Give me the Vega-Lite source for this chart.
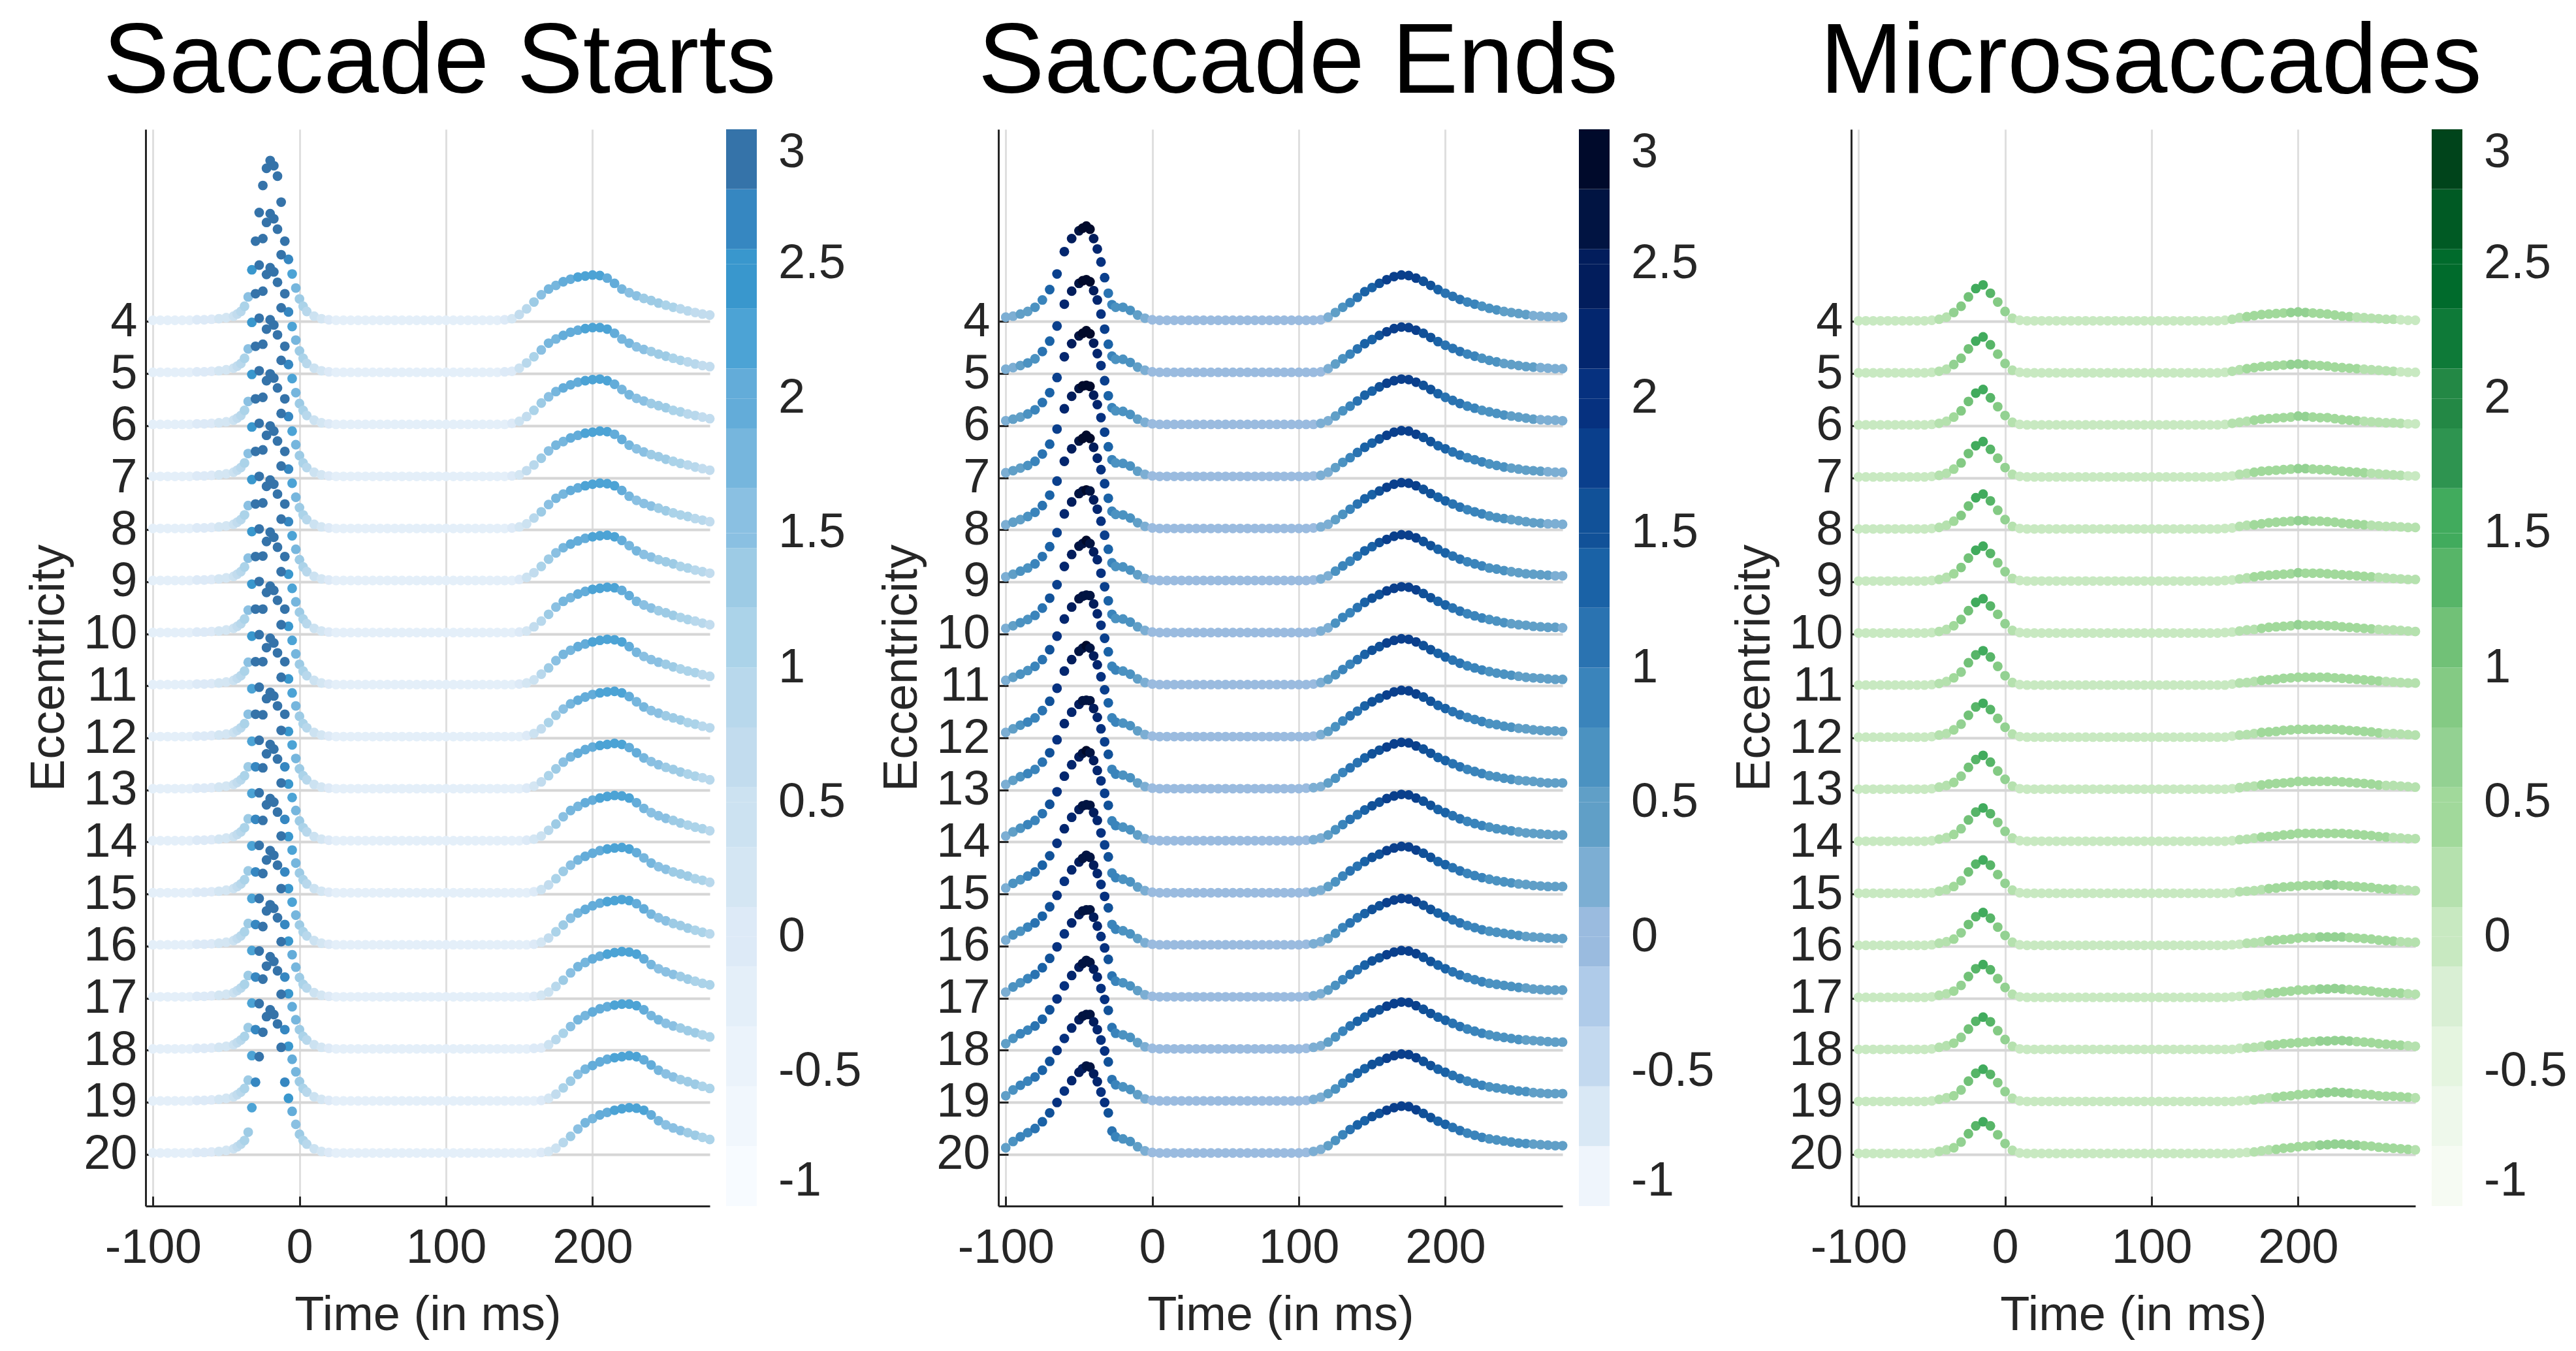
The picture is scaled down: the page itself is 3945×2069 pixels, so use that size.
{
"$schema": "https://vega.github.io/schema/vega-lite/v6.json",
"background": "white",
"padding": {"left": 38, "top": 20, "right": 5, "bottom": 5},
"bounds": "flush",
"spacing": 442,
"config": {
  "font": "Liberation Sans",
  "view": {"stroke": null},
  "locale": {"number": {"decimal": ".", "thousands": ",", "grouping": [3], "currency": ["$", ""], "minus": "-"}},
  "title": {"fontSize": 152, "fontWeight": "normal", "color": "#000000", "font": "Liberation Sans", "anchor": "middle", "baseline": "alphabetic", "offset": 24, "frame": "group"},
  "axis": {"domainColor": "#262626", "domainWidth": 3, "tickColor": "#262626", "tickWidth": 3, "tickSize": -15, "labelFontSize": 74, "labelColor": "#262626", "titleFontSize": 74, "titleFontWeight": "normal", "titleColor": "#262626", "labelFont": "Liberation Sans", "titleFont": "Liberation Sans", "labelFlush": false},
  "axisX": {"gridColor": "#dfdfdf", "gridWidth": 3, "labelPadding": 43, "titlePadding": 30},
  "axisY": {"gridColor": "#d6d6d6", "gridWidth": 4, "labelPadding": 28, "titlePadding": 14},
  "legend": {"labelFontSize": 74, "labelColor": "#262626", "labelFont": "Liberation Sans", "gradientLength": 1649, "gradientThickness": 47, "gradientStrokeWidth": 0, "labelOffset": 33, "offset": 25, "padding": 0, "labelOverlap": false}
},
"resolve": {"scale": {"color": "independent"}, "legend": {"color": "independent"}},
"datasets": {
"starts": [
{"t":-100,"e":[4,5,6,7,8,9,10,11,12,13,14,15,16,17,18,19,20],"h":[3,3,3,3,3,3,3,3,3,3,3,3,3,3,3,3,3],"c":[-0.2,-0.2,-0.2,-0.2,-0.2,-0.2,-0.2,-0.2,-0.2,-0.2,-0.2,-0.2,-0.2,-0.2,-0.2,-0.2,-0.2]},
{"t":-95,"e":[4,5,6,7,8,9,10,11,12,13,14,15,16,17,18,19,20],"h":[3,3,3,3,3,3,3,3,3,3,3,3,3,3,3,3,3],"c":[-0.2,-0.2,-0.2,-0.2,-0.2,-0.2,-0.2,-0.2,-0.2,-0.2,-0.2,-0.2,-0.2,-0.2,-0.2,-0.2,-0.2]},
{"t":-90,"e":[4,5,6,7,8,9,10,11,12,13,14,15,16,17,18,19,20],"h":[3,3,3,3,3,3,3,3,3,3,3,3,3,3,3,3,3],"c":[-0.2,-0.2,-0.2,-0.2,-0.2,-0.2,-0.2,-0.2,-0.2,-0.2,-0.2,-0.2,-0.2,-0.2,-0.2,-0.2,-0.2]},
{"t":-85,"e":[4,5,6,7,8,9,10,11,12,13,14,15,16,17,18,19,20],"h":[3,3,3,3,3,3,3,3,3,3,3,3,3,3,3,3,3],"c":[-0.2,-0.2,-0.2,-0.2,-0.2,-0.2,-0.2,-0.2,-0.2,-0.2,-0.2,-0.2,-0.2,-0.2,-0.2,-0.2,-0.2]},
{"t":-80,"e":[4,5,6,7,8,9,10,11,12,13,14,15,16,17,18,19,20],"h":[3,3,3,3,3,3,3,3,3,3,3,3,3,3,3,3,3],"c":[-0.2,-0.2,-0.2,-0.2,-0.2,-0.2,-0.2,-0.2,-0.2,-0.2,-0.2,-0.2,-0.2,-0.2,-0.2,-0.2,-0.2]},
{"t":-75,"e":[4,5,6,7,8,9,10,11,12,13,14,15,16,17,18,19,20],"h":[3,3,3,3,3,3,3,3,3,3,3,3,3,3,3,3,3],"c":[-0.2,-0.2,-0.2,-0.2,-0.2,-0.2,-0.2,-0.2,-0.2,-0.2,-0.2,-0.2,-0.2,-0.2,-0.2,-0.2,-0.2]},
{"t":-70,"e":[4,5,6,7,8,9,10,11,12,13,14,15,16,17,18,19,20],"h":[4,4,4,4,4,4,4,4,4,4,4,4,4,4,4,4,4],"c":[0,0,0,0,0,0,0,0,0,0,0,0,0,0,0,0,0]},
{"t":-65,"e":[4,5,6,7,8,9,10,11,12,13,14,15,16,17,18,19,20],"h":[4,4,4,4,4,4,4,4,4,4,4,4,4,4,4,4,4],"c":[0,0,0,0,0,0,0,0,0,0,0,0,0,0,0,0,0]},
{"t":-60,"e":[4,5,6,7,8,9,10,11,12,13,14,15,16,17,18,19,20],"h":[5,5,5,5,5,5,5,5,5,5,5,5,5,5,5,5,5],"c":[0,0,0,0,0,0,0,0,0,0,0,0,0,0,0,0,0]},
{"t":-55,"e":[4,5,6,7,8,9,10,11,12,13,14,15,16,17,18,19,20],"h":[6,6,6,6,6,6,6,6,6,6,6,6,6,6,6,6,6],"c":[0.2,0.2,0.2,0.2,0.2,0.2,0.2,0.2,0.2,0.2,0.2,0.2,0.2,0.2,0.2,0.2,0.2]},
{"t":-50,"e":[4,5,6,7,8,9,10,11,12,13,14,15,16,17,18,19,20],"h":[8,8,8,8,8,8,8,8,8,8,8,8,8,8,8,8,8],"c":[0.2,0.2,0.2,0.2,0.2,0.2,0.2,0.2,0.2,0.2,0.2,0.2,0.2,0.2,0.2,0.2,0.2]},
{"t":-45,"e":[4,5,6,7,8,9,10,11,12,13,14,15,16,17,18,19,20],"h":[11,11,11,11,11,11,11,11,11,11,11,11,11,11,11,11,11],"c":[0.4,0.4,0.4,0.4,0.4,0.4,0.4,0.4,0.4,0.4,0.4,0.4,0.4,0.4,0.4,0.4,0.4]},
{"t":-42.5,"e":[4,5,6,7,8,9,10,11,12,13,14,15,16,17,18,19,20],"h":[15,15,15,15,15,15,15,15,15,15,15,15,15,15,15,15,15],"c":[0.7,0.7,0.7,0.7,0.7,0.7,0.7,0.7,0.7,0.7,0.7,0.7,0.7,0.7,0.7,0.7,0.7]},
{"t":-40,"e":[4,5,6,7,8,9,10,11,12,13,14,15,16,17,18,19,20],"h":[20,20,20,20,20,20,20,20,20,20,20,20,20,20,20,20,20],"c":[0.9,0.9,0.9,0.9,0.9,0.9,0.9,0.9,0.9,0.9,0.9,0.9,0.9,0.9,0.9,0.9,0.9]},
{"t":-37.5,"e":[4,5,6,7,8,9,10,11,12,13,14,15,16,17,18,19,20],"h":[30,30,30,29,29,29,29,29,28,28,28,28,28,27,27,27,27],"c":[1.1,1.1,1.1,1.1,1.1,1.1,1.1,1.1,1.1,1.1,1.1,1.1,1.1,1.1,1.1,1.1,1.1]},
{"t":-35,"e":[4,5,6,7,8,9,10,11,12,13,14,15,16,17,18,19,20],"h":[48,48,47,47,47,46,46,46,46,45,45,45,44,44,44,43,43],"c":[1.6,1.6,1.6,1.6,1.6,1.6,1.6,1.6,1.6,1.3,1.3,1.3,1.3,1.3,1.3,1.3,1.3]},
{"t":-32.5,"e":[4,5,6,7,8,9,10,11,12,13,14,15,16,17,18,19,20],"h":[100,99,99,98,97,97,96,96,95,94,94,93,92,92,91,90,90],"c":[2.4,2.4,2.4,2.4,2.4,2.4,2.4,2.4,2.2,2.2,2.2,2.2,2.2,2.2,2.2,2.2,2.2]},
{"t":-30,"e":[4,5,6,7,8,9,10,11,12,13,14,15,16,17,18,19,20],"h":[155,154,153,152,151,150,149,148,147,146,145,144,143,142,141,140,139],"c":[2.9,2.9,2.9,2.9,2.9,2.9,2.9,2.9,2.9,2.9,2.7,2.7,2.7,2.7,2.7,2.7,2.7]},
{"t":-27.5,"e":[4,5,6,7,8,9,10,11,12,13,14,15,16,17,18,19,20],"h":[210,209,207,206,205,203,202,201,199,198,196,195,194,192,191,190,188],"c":[2.9,2.9,2.9,2.9,2.9,2.9,2.9,2.9,2.9,2.9,2.9,2.9,2.9,2.9,2.9,2.9,2.9]},
{"t":-25,"e":[4,5,6,7,8,9,10,11,12,13,14,15,16,17,18,19,20],"h":[262,260,259,257,255,254,252,250,248,247,245,243,242,240,238,237,235],"c":[2.9,2.9,2.9,2.9,2.9,2.9,2.9,2.9,2.9,2.9,2.9,2.9,2.9,2.9,2.9,2.9,2.9]},
{"t":-22.5,"e":[4,5,6,7,8,9,10,11,12,13,14,15,16,17,18,19,20],"h":[295,291,291,286,287,282,284,278,280,274,276,270,272,266,268,262,265],"c":[2.9,2.9,2.9,2.9,2.9,2.9,2.9,2.9,2.9,2.9,2.9,2.9,2.9,2.9,2.9,2.9,2.9]},
{"t":-20,"e":[4,5,6,7,8,9,10,11,12,13,14,15,16,17,18,19,20],"h":[310,308,304,304,300,300,296,296,292,292,288,288,284,284,280,280,278],"c":[2.9,2.9,2.9,2.9,2.9,2.9,2.9,2.9,2.9,2.9,2.9,2.9,2.9,2.9,2.9,2.9,2.9]},
{"t":-17.5,"e":[4,5,6,7,8,9,10,11,12,13,14,15,16,17,18,19,20],"h":[300,298,296,294,292,290,288,286,284,283,281,279,277,275,273,271,269],"c":[2.9,2.9,2.9,2.9,2.9,2.9,2.9,2.9,2.9,2.9,2.9,2.9,2.9,2.9,2.9,2.9,2.9]},
{"t":-15,"e":[4,5,6,7,8,9,10,11,12,13,14,15,16,17,18,19,20],"h":[280,278,276,275,273,271,269,267,265,264,262,260,258,256,255,253,251],"c":[2.9,2.9,2.9,2.9,2.9,2.9,2.9,2.9,2.9,2.9,2.9,2.9,2.9,2.9,2.9,2.9,2.9]},
{"t":-12.5,"e":[4,5,6,7,8,9,10,11,12,13,14,15,16,17,18,19,20],"h":[230,229,227,226,224,223,221,220,218,217,215,214,212,211,209,208,206],"c":[2.9,2.9,2.9,2.9,2.9,2.9,2.9,2.9,2.9,2.9,2.9,2.9,2.9,2.9,2.9,2.9,2.9]},
{"t":-10,"e":[4,5,6,7,8,9,10,11,12,13,14,15,16,17,18,19,20],"h":[155,154,153,152,151,150,149,148,147,146,145,144,143,142,141,140,139],"c":[2.9,2.9,2.9,2.9,2.9,2.9,2.9,2.9,2.9,2.9,2.7,2.7,2.7,2.7,2.7,2.7,2.7]},
{"t":-7.5,"e":[4,5,6,7,8,9,10,11,12,13,14,15,16,17,18,19,20],"h":[120,119,118,118,117,116,115,115,114,113,112,111,111,110,109,108,108],"c":[2.7,2.7,2.7,2.7,2.7,2.7,2.4,2.4,2.4,2.4,2.4,2.4,2.4,2.4,2.4,2.4,2.4]},
{"t":-5,"e":[4,5,6,7,8,9,10,11,12,13,14,15,16,17,18,19,20],"h":[92,91,91,90,90,89,88,88,87,87,86,85,85,84,84,83,83],"c":[2.2,2.2,2.2,2.2,2.2,2.2,2.2,2.2,2.2,2.2,2.2,2.2,2.2,2,2,2,2]},
{"t":-2.5,"e":[4,5,6,7,8,9,10,11,12,13,14,15,16,17,18,19,20],"h":[65,65,64,64,63,63,62,62,62,61,61,60,60,60,59,59,58],"c":[1.8,1.8,1.8,1.8,1.8,1.8,1.8,1.8,1.8,1.8,1.8,1.8,1.8,1.8,1.8,1.8,1.6]},
{"t":0,"e":[4,5,6,7,8,9,10,11,12,13,14,15,16,17,18,19,20],"h":[44,44,43,43,43,43,42,42,42,41,41,41,41,40,40,40,39],"c":[1.3,1.3,1.3,1.3,1.3,1.3,1.3,1.3,1.3,1.3,1.3,1.3,1.3,1.3,1.3,1.3,1.3]},
{"t":2.5,"e":[4,5,6,7,8,9,10,11,12,13,14,15,16,17,18,19,20],"h":[30,30,30,29,29,29,29,29,28,28,28,28,28,27,27,27,27],"c":[1.1,1.1,1.1,1.1,1.1,1.1,1.1,1.1,1.1,1.1,1.1,1.1,1.1,1.1,1.1,1.1,1.1]},
{"t":5,"e":[4,5,6,7,8,9,10,11,12,13,14,15,16,17,18,19,20],"h":[20,20,20,20,20,20,20,20,20,20,20,20,20,20,20,20,20],"c":[0.9,0.9,0.9,0.9,0.9,0.9,0.9,0.9,0.9,0.9,0.9,0.9,0.9,0.9,0.9,0.9,0.9]},
{"t":10,"e":[4,5,6,7,8,9,10,11,12,13,14,15,16,17,18,19,20],"h":[11,11,11,11,11,11,11,11,11,11,11,11,11,11,11,11,11],"c":[0.4,0.4,0.4,0.4,0.4,0.4,0.4,0.4,0.4,0.4,0.4,0.4,0.4,0.4,0.4,0.4,0.4]},
{"t":15,"e":[4,5,6,7,8,9,10,11,12,13,14,15,16,17,18,19,20],"h":[6,6,6,6,6,6,6,6,6,6,6,6,6,6,6,6,6],"c":[0.2,0.2,0.2,0.2,0.2,0.2,0.2,0.2,0.2,0.2,0.2,0.2,0.2,0.2,0.2,0.2,0.2]},
{"t":20,"e":[4,5,6,7,8,9,10,11,12,13,14,15,16,17,18,19,20],"h":[4,4,4,4,4,4,4,4,4,4,4,4,4,4,4,4,4],"c":[0,0,0,0,0,0,0,0,0,0,0,0,0,0,0,0,0]},
{"t":25,"e":[4,5,6,7,8,9,10,11,12,13,14,15,16,17,18,19,20],"h":[3,3,3,3,3,3,3,3,3,3,3,3,3,3,3,3,3],"c":[-0.2,-0.2,-0.2,-0.2,-0.2,-0.2,-0.2,-0.2,-0.2,-0.2,-0.2,-0.2,-0.2,-0.2,-0.2,-0.2,-0.2]},
{"t":30,"e":[4,5,6,7,8,9,10,11,12,13,14,15,16,17,18,19,20],"h":[3,3,3,3,3,3,3,3,3,3,3,3,3,3,3,3,3],"c":[-0.2,-0.2,-0.2,-0.2,-0.2,-0.2,-0.2,-0.2,-0.2,-0.2,-0.2,-0.2,-0.2,-0.2,-0.2,-0.2,-0.2]},
{"t":35,"e":[4,5,6,7,8,9,10,11,12,13,14,15,16,17,18,19,20],"h":[3,3,3,3,3,3,3,3,3,3,3,3,3,3,3,3,3],"c":[-0.2,-0.2,-0.2,-0.2,-0.2,-0.2,-0.2,-0.2,-0.2,-0.2,-0.2,-0.2,-0.2,-0.2,-0.2,-0.2,-0.2]},
{"t":40,"e":[4,5,6,7,8,9,10,11,12,13,14,15,16,17,18,19,20],"h":[3,3,3,3,3,3,3,3,3,3,3,3,3,3,3,3,3],"c":[-0.2,-0.2,-0.2,-0.2,-0.2,-0.2,-0.2,-0.2,-0.2,-0.2,-0.2,-0.2,-0.2,-0.2,-0.2,-0.2,-0.2]},
{"t":45,"e":[4,5,6,7,8,9,10,11,12,13,14,15,16,17,18,19,20],"h":[3,3,3,3,3,3,3,3,3,3,3,3,3,3,3,3,3],"c":[-0.2,-0.2,-0.2,-0.2,-0.2,-0.2,-0.2,-0.2,-0.2,-0.2,-0.2,-0.2,-0.2,-0.2,-0.2,-0.2,-0.2]},
{"t":50,"e":[4,5,6,7,8,9,10,11,12,13,14,15,16,17,18,19,20],"h":[3,3,3,3,3,3,3,3,3,3,3,3,3,3,3,3,3],"c":[-0.2,-0.2,-0.2,-0.2,-0.2,-0.2,-0.2,-0.2,-0.2,-0.2,-0.2,-0.2,-0.2,-0.2,-0.2,-0.2,-0.2]},
{"t":55,"e":[4,5,6,7,8,9,10,11,12,13,14,15,16,17,18,19,20],"h":[3,3,3,3,3,3,3,3,3,3,3,3,3,3,3,3,3],"c":[-0.2,-0.2,-0.2,-0.2,-0.2,-0.2,-0.2,-0.2,-0.2,-0.2,-0.2,-0.2,-0.2,-0.2,-0.2,-0.2,-0.2]},
{"t":60,"e":[4,5,6,7,8,9,10,11,12,13,14,15,16,17,18,19,20],"h":[3,3,3,3,3,3,3,3,3,3,3,3,3,3,3,3,3],"c":[-0.2,-0.2,-0.2,-0.2,-0.2,-0.2,-0.2,-0.2,-0.2,-0.2,-0.2,-0.2,-0.2,-0.2,-0.2,-0.2,-0.2]},
{"t":65,"e":[4,5,6,7,8,9,10,11,12,13,14,15,16,17,18,19,20],"h":[3,3,3,3,3,3,3,3,3,3,3,3,3,3,3,3,3],"c":[-0.2,-0.2,-0.2,-0.2,-0.2,-0.2,-0.2,-0.2,-0.2,-0.2,-0.2,-0.2,-0.2,-0.2,-0.2,-0.2,-0.2]},
{"t":70,"e":[4,5,6,7,8,9,10,11,12,13,14,15,16,17,18,19,20],"h":[3,3,3,3,3,3,3,3,3,3,3,3,3,3,3,3,3],"c":[-0.2,-0.2,-0.2,-0.2,-0.2,-0.2,-0.2,-0.2,-0.2,-0.2,-0.2,-0.2,-0.2,-0.2,-0.2,-0.2,-0.2]},
{"t":75,"e":[4,5,6,7,8,9,10,11,12,13,14,15,16,17,18,19,20],"h":[3,3,3,3,3,3,3,3,3,3,3,3,3,3,3,3,3],"c":[-0.2,-0.2,-0.2,-0.2,-0.2,-0.2,-0.2,-0.2,-0.2,-0.2,-0.2,-0.2,-0.2,-0.2,-0.2,-0.2,-0.2]},
{"t":80,"e":[4,5,6,7,8,9,10,11,12,13,14,15,16,17,18,19,20],"h":[3,3,3,3,3,3,3,3,3,3,3,3,3,3,3,3,3],"c":[-0.2,-0.2,-0.2,-0.2,-0.2,-0.2,-0.2,-0.2,-0.2,-0.2,-0.2,-0.2,-0.2,-0.2,-0.2,-0.2,-0.2]},
{"t":85,"e":[4,5,6,7,8,9,10,11,12,13,14,15,16,17,18,19,20],"h":[3,3,3,3,3,3,3,3,3,3,3,3,3,3,3,3,3],"c":[-0.2,-0.2,-0.2,-0.2,-0.2,-0.2,-0.2,-0.2,-0.2,-0.2,-0.2,-0.2,-0.2,-0.2,-0.2,-0.2,-0.2]},
{"t":90,"e":[4,5,6,7,8,9,10,11,12,13,14,15,16,17,18,19,20],"h":[3,3,3,3,3,3,3,3,3,3,3,3,3,3,3,3,3],"c":[-0.2,-0.2,-0.2,-0.2,-0.2,-0.2,-0.2,-0.2,-0.2,-0.2,-0.2,-0.2,-0.2,-0.2,-0.2,-0.2,-0.2]},
{"t":95,"e":[4,5,6,7,8,9,10,11,12,13,14,15,16,17,18,19,20],"h":[3,3,3,3,3,3,3,3,3,3,3,3,3,3,3,3,3],"c":[-0.2,-0.2,-0.2,-0.2,-0.2,-0.2,-0.2,-0.2,-0.2,-0.2,-0.2,-0.2,-0.2,-0.2,-0.2,-0.2,-0.2]},
{"t":100,"e":[4,5,6,7,8,9,10,11,12,13,14,15,16,17,18,19,20],"h":[3,3,3,3,3,3,3,3,3,3,3,3,3,3,3,3,3],"c":[-0.2,-0.2,-0.2,-0.2,-0.2,-0.2,-0.2,-0.2,-0.2,-0.2,-0.2,-0.2,-0.2,-0.2,-0.2,-0.2,-0.2]},
{"t":105,"e":[4,5,6,7,8,9,10,11,12,13,14,15,16,17,18,19,20],"h":[3,3,3,3,3,3,3,3,3,3,3,3,3,3,3,3,3],"c":[-0.2,-0.2,-0.2,-0.2,-0.2,-0.2,-0.2,-0.2,-0.2,-0.2,-0.2,-0.2,-0.2,-0.2,-0.2,-0.2,-0.2]},
{"t":110,"e":[4,5,6,7,8,9,10,11,12,13,14,15,16,17,18,19,20],"h":[3,3,3,3,3,3,3,3,3,3,3,3,3,3,3,3,3],"c":[-0.2,-0.2,-0.2,-0.2,-0.2,-0.2,-0.2,-0.2,-0.2,-0.2,-0.2,-0.2,-0.2,-0.2,-0.2,-0.2,-0.2]},
{"t":115,"e":[4,5,6,7,8,9,10,11,12,13,14,15,16,17,18,19,20],"h":[3,3,3,3,3,3,3,3,3,3,3,3,3,3,3,3,3],"c":[-0.2,-0.2,-0.2,-0.2,-0.2,-0.2,-0.2,-0.2,-0.2,-0.2,-0.2,-0.2,-0.2,-0.2,-0.2,-0.2,-0.2]},
{"t":120,"e":[4,5,6,7,8,9,10,11,12,13,14,15,16,17,18,19,20],"h":[3,3,3,3,3,3,3,3,3,3,3,3,3,3,3,3,3],"c":[-0.2,-0.2,-0.2,-0.2,-0.2,-0.2,-0.2,-0.2,-0.2,-0.2,-0.2,-0.2,-0.2,-0.2,-0.2,-0.2,-0.2]},
{"t":125,"e":[4,5,6,7,8,9,10,11,12,13,14,15,16,17,18,19,20],"h":[3,3,3,3,3,3,3,3,3,3,3,3,3,3,3,3,3],"c":[-0.2,-0.2,-0.2,-0.2,-0.2,-0.2,-0.2,-0.2,-0.2,-0.2,-0.2,-0.2,-0.2,-0.2,-0.2,-0.2,-0.2]},
{"t":130,"e":[4,5,6,7,8,9,10,11,12,13,14,15,16,17,18,19,20],"h":[3,3,3,3,3,3,3,3,3,3,3,3,3,3,3,3,3],"c":[-0.2,-0.2,-0.2,-0.2,-0.2,-0.2,-0.2,-0.2,-0.2,-0.2,-0.2,-0.2,-0.2,-0.2,-0.2,-0.2,-0.2]},
{"t":135,"e":[4,5,6,7,8,9,10,11,12,13,14,15,16,17,18,19,20],"h":[3,3,3,3,3,3,3,3,3,3,3,3,3,3,3,3,3],"c":[-0.2,-0.2,-0.2,-0.2,-0.2,-0.2,-0.2,-0.2,-0.2,-0.2,-0.2,-0.2,-0.2,-0.2,-0.2,-0.2,-0.2]},
{"t":140,"e":[4,5,6,7,8,9,10,11,12,13,14,15,16,17,18,19,20],"h":[4,4,3,3,3,3,3,3,3,3,3,3,3,3,3,3,3],"c":[0,0,-0.2,-0.2,-0.2,-0.2,-0.2,-0.2,-0.2,-0.2,-0.2,-0.2,-0.2,-0.2,-0.2,-0.2,-0.2]},
{"t":145,"e":[4,5,6,7,8,9,10,11,12,13,14,15,16,17,18,19,20],"h":[6,5,5,4,4,3,3,3,3,3,3,3,3,3,3,3,3],"c":[0.2,0,0,0,0,-0.2,-0.2,-0.2,-0.2,-0.2,-0.2,-0.2,-0.2,-0.2,-0.2,-0.2,-0.2]},
{"t":150,"e":[4,5,6,7,8,9,10,11,12,13,14,15,16,17,18,19,20],"h":[14,11,9,6,6,5,4,4,3,3,3,3,3,3,3,3,3],"c":[0.7,0.4,0.4,0.2,0.2,0,0,0,-0.2,-0.2,-0.2,-0.2,-0.2,-0.2,-0.2,-0.2,-0.2]},
{"t":155,"e":[4,5,6,7,8,9,10,11,12,13,14,15,16,17,18,19,20],"h":[25,21,18,14,12,9,6,6,5,4,4,3,3,3,3,3,3],"c":[0.9,0.9,0.7,0.7,0.4,0.4,0.2,0.2,0,0,0,-0.2,-0.2,-0.2,-0.2,-0.2,-0.2]},
{"t":160,"e":[4,5,6,7,8,9,10,11,12,13,14,15,16,17,18,19,20],"h":[38,33,30,25,23,18,14,12,9,8,6,5,4,4,4,3,3],"c":[1.3,1.1,1.1,0.9,0.9,0.7,0.7,0.4,0.4,0.2,0.2,0,0,0,0,-0.2,-0.2]},
{"t":165,"e":[4,5,6,7,8,9,10,11,12,13,14,15,16,17,18,19,20],"h":[52,46,44,38,35,30,25,23,18,16,12,9,8,6,5,4,4],"c":[1.6,1.6,1.3,1.3,1.3,1.1,0.9,0.9,0.7,0.7,0.4,0.4,0.2,0.2,0,0,0]},
{"t":170,"e":[4,5,6,7,8,9,10,11,12,13,14,15,16,17,18,19,20],"h":[63,59,56,52,49,44,38,35,30,28,23,18,16,12,11,8,6],"c":[1.8,1.8,1.6,1.6,1.6,1.3,1.3,1.3,1.1,1.1,0.9,0.7,0.7,0.4,0.4,0.2,0.2]},
{"t":175,"e":[4,5,6,7,8,9,10,11,12,13,14,15,16,17,18,19,20],"h":[70,67,66,63,61,56,52,49,44,41,35,30,28,23,21,16,12],"c":[1.8,1.8,1.8,1.8,1.8,1.6,1.6,1.6,1.3,1.3,1.3,1.1,1.1,0.9,0.9,0.7,0.4]},
{"t":180,"e":[4,5,6,7,8,9,10,11,12,13,14,15,16,17,18,19,20],"h":[77,74,73,70,69,66,63,61,56,54,49,44,41,35,33,28,23],"c":[2,2,2,1.8,1.8,1.8,1.8,1.8,1.6,1.6,1.6,1.3,1.3,1.3,1.1,1.1,0.9]},
{"t":185,"e":[4,5,6,7,8,9,10,11,12,13,14,15,16,17,18,19,20],"h":[82,80,79,77,76,73,70,69,66,64,61,56,54,49,46,41,35],"c":[2,2,2,2,2,2,1.8,1.8,1.8,1.8,1.8,1.6,1.6,1.6,1.6,1.3,1.3]},
{"t":190,"e":[4,5,6,7,8,9,10,11,12,13,14,15,16,17,18,19,20],"h":[86,84,84,82,81,79,77,76,73,71,69,66,64,61,59,54,49],"c":[2.2,2,2,2,2,2,2,2,2,2,1.8,1.8,1.8,1.8,1.8,1.6,1.6]},
{"t":195,"e":[4,5,6,7,8,9,10,11,12,13,14,15,16,17,18,19,20],"h":[88,87,87,86,85,84,82,81,79,78,76,73,71,69,67,64,61],"c":[2.2,2.2,2.2,2.2,2.2,2,2,2,2,2,2,2,2,1.8,1.8,1.8,1.8]},
{"t":200,"e":[4,5,6,7,8,9,10,11,12,13,14,15,16,17,18,19,20],"h":[90,89,89,88,88,87,86,85,84,83,81,79,78,76,74,71,69],"c":[2.2,2.2,2.2,2.2,2.2,2.2,2.2,2.2,2,2,2,2,2,2,2,2,1.8]},
{"t":205,"e":[4,5,6,7,8,9,10,11,12,13,14,15,16,17,18,19,20],"h":[89,89,90,90,90,89,88,88,87,86,85,84,83,81,80,78,76],"c":[2.2,2.2,2.2,2.2,2.2,2.2,2.2,2.2,2.2,2.2,2.2,2,2,2,2,2,2]},
{"t":210,"e":[4,5,6,7,8,9,10,11,12,13,14,15,16,17,18,19,20],"h":[84,86,87,89,89,90,90,90,89,88,88,87,86,85,84,83,81],"c":[2,2.2,2.2,2.2,2.2,2.2,2.2,2.2,2.2,2.2,2.2,2.2,2.2,2.2,2,2,2]},
{"t":215,"e":[4,5,6,7,8,9,10,11,12,13,14,15,16,17,18,19,20],"h":[74,78,80,84,85,87,89,89,90,90,90,89,88,88,87,86,85],"c":[2,2,2,2,2.2,2.2,2.2,2.2,2.2,2.2,2.2,2.2,2.2,2.2,2.2,2.2,2.2]},
{"t":220,"e":[4,5,6,7,8,9,10,11,12,13,14,15,16,17,18,19,20],"h":[63,67,70,74,76,80,84,85,87,88,89,90,90,90,89,88,88],"c":[1.8,1.8,1.8,2,2,2,2,2.2,2.2,2.2,2.2,2.2,2.2,2.2,2.2,2.2,2.2]},
{"t":225,"e":[4,5,6,7,8,9,10,11,12,13,14,15,16,17,18,19,20],"h":[56,59,60,63,65,70,74,76,80,82,85,87,88,89,89,90,90],"c":[1.6,1.8,1.8,1.8,1.8,1.8,2,2,2,2,2.2,2.2,2.2,2.2,2.2,2.2,2.2]},
{"t":230,"e":[4,5,6,7,8,9,10,11,12,13,14,15,16,17,18,19,20],"h":[50,52,53,56,57,60,63,65,70,72,76,80,82,85,86,88,89],"c":[1.6,1.6,1.6,1.6,1.6,1.8,1.8,1.8,1.8,2,2,2,2,2.2,2.2,2.2,2.2]},
{"t":235,"e":[4,5,6,7,8,9,10,11,12,13,14,15,16,17,18,19,20],"h":[45,47,48,50,51,53,56,57,60,62,65,70,72,76,78,82,85],"c":[1.3,1.6,1.6,1.6,1.6,1.6,1.6,1.6,1.8,1.8,1.8,1.8,2,2,2,2,2.2]},
{"t":240,"e":[4,5,6,7,8,9,10,11,12,13,14,15,16,17,18,19,20],"h":[41,43,43,45,46,48,50,51,53,55,57,60,62,65,67,72,76],"c":[1.3,1.3,1.3,1.3,1.6,1.6,1.6,1.6,1.6,1.6,1.6,1.8,1.8,1.8,1.8,2,2]},
{"t":245,"e":[4,5,6,7,8,9,10,11,12,13,14,15,16,17,18,19,20],"h":[36,38,39,41,42,43,45,46,48,49,51,53,55,57,59,62,65],"c":[1.3,1.3,1.3,1.3,1.3,1.3,1.3,1.6,1.6,1.6,1.6,1.6,1.6,1.6,1.8,1.8,1.8]},
{"t":250,"e":[4,5,6,7,8,9,10,11,12,13,14,15,16,17,18,19,20],"h":[32,34,35,36,37,39,41,42,43,44,46,48,49,51,52,55,57],"c":[1.1,1.3,1.3,1.3,1.3,1.3,1.3,1.3,1.3,1.3,1.6,1.6,1.6,1.6,1.6,1.6,1.6]},
{"t":255,"e":[4,5,6,7,8,9,10,11,12,13,14,15,16,17,18,19,20],"h":[28,30,30,32,33,35,36,37,39,40,42,43,44,46,47,49,51],"c":[1.1,1.1,1.1,1.1,1.1,1.3,1.3,1.3,1.3,1.3,1.3,1.3,1.3,1.6,1.6,1.6,1.6]},
{"t":260,"e":[4,5,6,7,8,9,10,11,12,13,14,15,16,17,18,19,20],"h":[25,26,27,28,29,30,32,33,35,35,37,39,40,42,43,44,46],"c":[0.9,1.1,1.1,1.1,1.1,1.1,1.1,1.1,1.3,1.3,1.3,1.3,1.3,1.3,1.3,1.3,1.6]},
{"t":265,"e":[4,5,6,7,8,9,10,11,12,13,14,15,16,17,18,19,20],"h":[21,23,23,25,26,27,28,29,30,31,33,35,35,37,38,40,42],"c":[0.9,0.9,0.9,0.9,1.1,1.1,1.1,1.1,1.1,1.1,1.1,1.3,1.3,1.3,1.3,1.3,1.3]},
{"t":270,"e":[4,5,6,7,8,9,10,11,12,13,14,15,16,17,18,19,20],"h":[18,19,20,21,22,23,25,26,27,27,29,30,31,33,34,35,37],"c":[0.7,0.9,0.9,0.9,0.9,0.9,0.9,1.1,1.1,1.1,1.1,1.1,1.1,1.1,1.3,1.3,1.3]},
{"t":275,"e":[4,5,6,7,8,9,10,11,12,13,14,15,16,17,18,19,20],"h":[15,16,17,18,19,20,21,22,23,24,26,27,27,29,30,31,33],"c":[0.7,0.7,0.7,0.7,0.9,0.9,0.9,0.9,0.9,0.9,1.1,1.1,1.1,1.1,1.1,1.1,1.1]},
{"t":280,"e":[4,5,6,7,8,9,10,11,12,13,14,15,16,17,18,19,20],"h":[13,14,14,15,16,17,18,19,20,20,22,23,24,26,26,27,29],"c":[0.7,0.7,0.7,0.7,0.7,0.7,0.7,0.9,0.9,0.9,0.9,0.9,0.9,1.1,1.1,1.1,1.1]}
],
"ends": [
{"t":-100,"e":[4,5,6,7,8,9,10,11,12,13,14,15,16,17,18,19,20],"h":[9,9,10,10,10,10,11,11,11,11,12,12,12,12,13,13,13],"c":[0.2,0.2,0.2,0.2,0.2,0.2,0.2,0.2,0.2,0.2,0.2,0.2,0.2,0.2,0.4,0.4,0.4]},
{"t":-95,"e":[4,5,6,7,8,9,10,11,12,13,14,15,16,17,18,19,20],"h":[11,12,13,14,15,15,16,17,18,19,20,21,22,22,23,24,25],"c":[0.2,0.2,0.4,0.4,0.4,0.4,0.4,0.4,0.4,0.4,0.4,0.7,0.7,0.7,0.7,0.7,0.7]},
{"t":-90,"e":[4,5,6,7,8,9,10,11,12,13,14,15,16,17,18,19,20],"h":[15,16,17,19,20,21,22,23,25,26,27,28,29,30,32,33,34],"c":[0.4,0.4,0.4,0.4,0.4,0.7,0.7,0.7,0.7,0.7,0.7,0.7,0.7,0.7,0.9,0.9,0.9]},
{"t":-85,"e":[4,5,6,7,8,9,10,11,12,13,14,15,16,17,18,19,20],"h":[20,21,23,24,26,27,28,30,31,32,34,35,37,38,39,41,42],"c":[0.4,0.7,0.7,0.7,0.7,0.7,0.7,0.7,0.9,0.9,0.9,0.9,0.9,0.9,0.9,0.9,0.9]},
{"t":-80,"e":[4,5,6,7,8,9,10,11,12,13,14,15,16,17,18,19,20],"h":[28,29,31,32,34,35,36,38,39,40,42,43,45,46,47,49,50],"c":[0.7,0.7,0.9,0.9,0.9,0.9,0.9,0.9,0.9,0.9,0.9,1.1,1.1,1.1,1.1,1.1,1.1]},
{"t":-75,"e":[4,5,6,7,8,9,10,11,12,13,14,15,16,17,18,19,20],"h":[42,43,45,46,47,49,50,51,53,54,55,56,58,59,60,62,63],"c":[0.9,1.1,1.1,1.1,1.1,1.1,1.1,1.1,1.1,1.1,1.1,1.3,1.3,1.3,1.3,1.3,1.3]},
{"t":-70,"e":[4,5,6,7,8,9,10,11,12,13,14,15,16,17,18,19,20],"h":[62,63,64,65,67,68,69,70,71,72,73,74,76,77,78,79,80],"c":[1.3,1.3,1.3,1.3,1.3,1.3,1.6,1.6,1.6,1.6,1.6,1.6,1.6,1.6,1.6,1.6,1.6]},
{"t":-65,"e":[4,5,6,7,8,9,10,11,12,13,14,15,16,17,18,19,20],"h":[92,92,93,94,94,95,95,96,96,97,97,98,98,99,99,100,100],"c":[1.8,1.8,1.8,1.8,1.8,1.8,1.8,2,2,2,2,2,2,2,2,2,2]},
{"t":-60,"e":[4,5,6,7,8,9,10,11,12,13,14,15,16,17,18,19,20],"h":[135,134,133,133,132,131,130,129,129,128,127,126,125,124,124,123,122],"c":[2.2,2.2,2.2,2.2,2.2,2.2,2.2,2.2,2.2,2.2,2.2,2.2,2,2,2,2,2]},
{"t":-55,"e":[4,5,6,7,8,9,10,11,12,13,14,15,16,17,18,19,20],"h":[160,159,158,157,156,154,153,152,151,150,149,148,147,145,144,143,142],"c":[2.4,2.4,2.4,2.4,2.4,2.4,2.4,2.4,2.4,2.2,2.2,2.2,2.2,2.2,2.2,2.2,2.2]},
{"t":-50,"e":[4,5,6,7,8,9,10,11,12,13,14,15,16,17,18,19,20],"h":[175,174,173,172,171,170,169,168,167,165,164,163,162,161,160,159,158],"c":[2.7,2.7,2.7,2.7,2.7,2.7,2.7,2.7,2.7,2.4,2.4,2.4,2.4,2.4,2.4,2.4,2.4]},
{"t":-47.5,"e":[4,5,6,7,8,9,10,11,12,13,14,15,16,17,18,19,20],"h":[180,179,178,177,176,175,174,173,173,172,171,170,169,168,167,166,165],"c":[2.9,2.9,2.9,2.9,2.9,2.7,2.7,2.7,2.7,2.7,2.7,2.7,2.7,2.7,2.7,2.7,2.4]},
{"t":-45,"e":[4,5,6,7,8,9,10,11,12,13,14,15,16,17,18,19,20],"h":[184,181,183,178,182,177,180,175,178,173,176,172,175,170,173,169,170],"c":[2.9,2.9,2.9,2.9,2.9,2.9,2.9,2.7,2.9,2.7,2.9,2.7,2.7,2.7,2.7,2.7,2.7]},
{"t":-42.5,"e":[4,5,6,7,8,9,10,11,12,13,14,15,16,17,18,19,20],"h":[178,177,177,176,176,175,174,174,173,172,172,171,171,170,169,169,168],"c":[2.9,2.9,2.9,2.9,2.9,2.7,2.7,2.7,2.7,2.7,2.7,2.7,2.7,2.7,2.7,2.7,2.7]},
{"t":-40,"e":[4,5,6,7,8,9,10,11,12,13,14,15,16,17,18,19,20],"h":[160,160,159,159,159,158,158,158,158,157,157,157,156,156,156,155,155],"c":[2.4,2.4,2.4,2.4,2.4,2.4,2.4,2.4,2.4,2.4,2.4,2.4,2.4,2.4,2.4,2.4,2.4]},
{"t":-37.5,"e":[4,5,6,7,8,9,10,11,12,13,14,15,16,17,18,19,20],"h":[140,142,139,141,138,140,143,139,141,140,138,142,140,139,141,140,140],"c":[2.2,2.2,2.2,2.2,2.2,2.2,2.2,2.2,2.2,2.2,2.2,2.2,2.2,2.2,2.2,2.2,2.2]},
{"t":-35,"e":[4,5,6,7,8,9,10,11,12,13,14,15,16,17,18,19,20],"h":[115,115,116,116,116,117,117,117,118,118,118,118,119,119,119,120,120],"c":[2,2,2,2,2,2,2,2,2,2,2,2,2,2,2,2,2]},
{"t":-32.5,"e":[4,5,6,7,8,9,10,11,12,13,14,15,16,17,18,19,20],"h":[85,86,87,88,89,90,91,92,93,93,94,95,96,97,98,99,100],"c":[1.8,1.8,1.8,1.8,1.8,1.8,1.8,1.8,1.8,1.8,1.8,1.8,2,2,2,2,2]},
{"t":-30,"e":[4,5,6,7,8,9,10,11,12,13,14,15,16,17,18,19,20],"h":[55,57,58,60,61,63,64,66,68,69,71,72,74,75,77,78,80],"c":[1.1,1.3,1.3,1.3,1.3,1.3,1.3,1.3,1.3,1.6,1.6,1.6,1.6,1.6,1.6,1.6,1.6]},
{"t":-27.5,"e":[4,5,6,7,8,9,10,11,12,13,14,15,16,17,18,19,20],"h":[33,34,35,35,36,37,38,38,39,40,41,41,42,43,44,44,45],"c":[0.9,0.9,0.9,0.9,0.9,0.9,0.9,0.9,0.9,0.9,0.9,0.9,0.9,1.1,1.1,1.1,1.1]},
{"t":-25,"e":[4,5,6,7,8,9,10,11,12,13,14,15,16,17,18,19,20],"h":[28,28,29,29,30,30,30,31,31,31,32,32,33,33,33,34,34],"c":[0.7,0.7,0.7,0.7,0.7,0.7,0.7,0.9,0.9,0.9,0.9,0.9,0.9,0.9,0.9,0.9,0.9]},
{"t":-20,"e":[4,5,6,7,8,9,10,11,12,13,14,15,16,17,18,19,20],"h":[28,28,28,28,29,29,29,29,29,29,29,29,30,30,30,30,30],"c":[0.7,0.7,0.7,0.7,0.7,0.7,0.7,0.7,0.7,0.7,0.7,0.7,0.7,0.7,0.7,0.7,0.7]},
{"t":-15,"e":[4,5,6,7,8,9,10,11,12,13,14,15,16,17,18,19,20],"h":[22,22,22,23,23,23,23,23,24,24,24,24,24,24,25,25,25],"c":[0.7,0.7,0.7,0.7,0.7,0.7,0.7,0.7,0.7,0.7,0.7,0.7,0.7,0.7,0.7,0.7,0.7]},
{"t":-10,"e":[4,5,6,7,8,9,10,11,12,13,14,15,16,17,18,19,20],"h":[13,13,13,13,14,14,14,14,14,14,14,14,15,15,15,15,15],"c":[0.4,0.4,0.4,0.4,0.4,0.4,0.4,0.4,0.4,0.4,0.4,0.4,0.4,0.4,0.4,0.4,0.4]},
{"t":-5,"e":[4,5,6,7,8,9,10,11,12,13,14,15,16,17,18,19,20],"h":[7,7,7,7,7,7,7,7,7,7,7,7,7,7,7,7,7],"c":[0.2,0.2,0.2,0.2,0.2,0.2,0.2,0.2,0.2,0.2,0.2,0.2,0.2,0.2,0.2,0.2,0.2]},
{"t":0,"e":[4,5,6,7,8,9,10,11,12,13,14,15,16,17,18,19,20],"h":[4,4,4,4,4,4,4,4,4,4,4,4,4,4,4,4,4],"c":[0,0,0,0,0,0,0,0,0,0,0,0,0,0,0,0,0]},
{"t":5,"e":[4,5,6,7,8,9,10,11,12,13,14,15,16,17,18,19,20],"h":[3,3,3,3,3,3,3,3,3,3,3,3,3,3,3,3,3],"c":[0,0,0,0,0,0,0,0,0,0,0,0,0,0,0,0,0]},
{"t":10,"e":[4,5,6,7,8,9,10,11,12,13,14,15,16,17,18,19,20],"h":[3,3,3,3,3,3,3,3,3,3,3,3,3,3,3,3,3],"c":[0,0,0,0,0,0,0,0,0,0,0,0,0,0,0,0,0]},
{"t":15,"e":[4,5,6,7,8,9,10,11,12,13,14,15,16,17,18,19,20],"h":[3,3,3,3,3,3,3,3,3,3,3,3,3,3,3,3,3],"c":[0,0,0,0,0,0,0,0,0,0,0,0,0,0,0,0,0]},
{"t":20,"e":[4,5,6,7,8,9,10,11,12,13,14,15,16,17,18,19,20],"h":[3,3,3,3,3,3,3,3,3,3,3,3,3,3,3,3,3],"c":[0,0,0,0,0,0,0,0,0,0,0,0,0,0,0,0,0]},
{"t":25,"e":[4,5,6,7,8,9,10,11,12,13,14,15,16,17,18,19,20],"h":[3,3,3,3,3,3,3,3,3,3,3,3,3,3,3,3,3],"c":[0,0,0,0,0,0,0,0,0,0,0,0,0,0,0,0,0]},
{"t":30,"e":[4,5,6,7,8,9,10,11,12,13,14,15,16,17,18,19,20],"h":[3,3,3,3,3,3,3,3,3,3,3,3,3,3,3,3,3],"c":[0,0,0,0,0,0,0,0,0,0,0,0,0,0,0,0,0]},
{"t":35,"e":[4,5,6,7,8,9,10,11,12,13,14,15,16,17,18,19,20],"h":[3,3,3,3,3,3,3,3,3,3,3,3,3,3,3,3,3],"c":[0,0,0,0,0,0,0,0,0,0,0,0,0,0,0,0,0]},
{"t":40,"e":[4,5,6,7,8,9,10,11,12,13,14,15,16,17,18,19,20],"h":[3,3,3,3,3,3,3,3,3,3,3,3,3,3,3,3,3],"c":[0,0,0,0,0,0,0,0,0,0,0,0,0,0,0,0,0]},
{"t":45,"e":[4,5,6,7,8,9,10,11,12,13,14,15,16,17,18,19,20],"h":[3,3,3,3,3,3,3,3,3,3,3,3,3,3,3,3,3],"c":[0,0,0,0,0,0,0,0,0,0,0,0,0,0,0,0,0]},
{"t":50,"e":[4,5,6,7,8,9,10,11,12,13,14,15,16,17,18,19,20],"h":[3,3,3,3,3,3,3,3,3,3,3,3,3,3,3,3,3],"c":[0,0,0,0,0,0,0,0,0,0,0,0,0,0,0,0,0]},
{"t":55,"e":[4,5,6,7,8,9,10,11,12,13,14,15,16,17,18,19,20],"h":[3,3,3,3,3,3,3,3,3,3,3,3,3,3,3,3,3],"c":[0,0,0,0,0,0,0,0,0,0,0,0,0,0,0,0,0]},
{"t":60,"e":[4,5,6,7,8,9,10,11,12,13,14,15,16,17,18,19,20],"h":[3,3,3,3,3,3,3,3,3,3,3,3,3,3,3,3,3],"c":[0,0,0,0,0,0,0,0,0,0,0,0,0,0,0,0,0]},
{"t":65,"e":[4,5,6,7,8,9,10,11,12,13,14,15,16,17,18,19,20],"h":[3,3,3,3,3,3,3,3,3,3,3,3,3,3,3,3,3],"c":[0,0,0,0,0,0,0,0,0,0,0,0,0,0,0,0,0]},
{"t":70,"e":[4,5,6,7,8,9,10,11,12,13,14,15,16,17,18,19,20],"h":[3,3,3,3,3,3,3,3,3,3,3,3,3,3,3,3,3],"c":[0,0,0,0,0,0,0,0,0,0,0,0,0,0,0,0,0]},
{"t":75,"e":[4,5,6,7,8,9,10,11,12,13,14,15,16,17,18,19,20],"h":[3,3,3,3,3,3,3,3,3,3,3,3,3,3,3,3,3],"c":[0,0,0,0,0,0,0,0,0,0,0,0,0,0,0,0,0]},
{"t":80,"e":[4,5,6,7,8,9,10,11,12,13,14,15,16,17,18,19,20],"h":[3,3,3,3,3,3,3,3,3,3,3,3,3,3,3,3,3],"c":[0,0,0,0,0,0,0,0,0,0,0,0,0,0,0,0,0]},
{"t":85,"e":[4,5,6,7,8,9,10,11,12,13,14,15,16,17,18,19,20],"h":[3,3,3,3,3,3,3,3,3,3,3,3,3,3,3,3,3],"c":[0,0,0,0,0,0,0,0,0,0,0,0,0,0,0,0,0]},
{"t":90,"e":[4,5,6,7,8,9,10,11,12,13,14,15,16,17,18,19,20],"h":[3,3,3,3,3,3,3,3,3,3,3,3,3,3,3,3,3],"c":[0,0,0,0,0,0,0,0,0,0,0,0,0,0,0,0,0]},
{"t":95,"e":[4,5,6,7,8,9,10,11,12,13,14,15,16,17,18,19,20],"h":[3,3,3,3,3,3,3,3,3,3,3,3,3,3,3,3,3],"c":[0,0,0,0,0,0,0,0,0,0,0,0,0,0,0,0,0]},
{"t":100,"e":[4,5,6,7,8,9,10,11,12,13,14,15,16,17,18,19,20],"h":[3,3,3,3,3,3,3,3,3,3,3,3,3,3,3,3,3],"c":[0,0,0,0,0,0,0,0,0,0,0,0,0,0,0,0,0]},
{"t":105,"e":[4,5,6,7,8,9,10,11,12,13,14,15,16,17,18,19,20],"h":[3,3,3,3,3,3,3,3,3,4,4,4,4,4,4,4,4],"c":[0,0,0,0,0,0,0,0,0,0,0,0,0,0,0,0,0]},
{"t":110,"e":[4,5,6,7,8,9,10,11,12,13,14,15,16,17,18,19,20],"h":[3,3,3,4,4,4,4,4,4,5,5,5,5,5,6,6,6],"c":[0,0,0,0,0,0,0,0,0,0.2,0.2,0.2,0.2,0.2,0.2,0.2,0.2]},
{"t":115,"e":[4,5,6,7,8,9,10,11,12,13,14,15,16,17,18,19,20],"h":[4,4,5,5,6,6,6,7,7,7,8,8,9,9,9,10,10],"c":[0,0,0.2,0.2,0.2,0.2,0.2,0.2,0.2,0.2,0.2,0.2,0.2,0.2,0.2,0.2,0.2]},
{"t":120,"e":[4,5,6,7,8,9,10,11,12,13,14,15,16,17,18,19,20],"h":[9,10,10,11,11,12,12,13,13,14,14,15,15,16,16,17,17],"c":[0.2,0.2,0.2,0.2,0.2,0.2,0.2,0.4,0.4,0.4,0.4,0.4,0.4,0.4,0.4,0.4,0.4]},
{"t":125,"e":[4,5,6,7,8,9,10,11,12,13,14,15,16,17,18,19,20],"h":[18,19,19,20,20,21,21,22,22,23,24,24,25,25,26,26,27],"c":[0.4,0.4,0.4,0.4,0.4,0.7,0.7,0.7,0.7,0.7,0.7,0.7,0.7,0.7,0.7,0.7,0.7]},
{"t":130,"e":[4,5,6,7,8,9,10,11,12,13,14,15,16,17,18,19,20],"h":[28,29,29,30,30,31,32,32,33,34,34,35,36,36,37,37,38],"c":[0.7,0.7,0.7,0.7,0.7,0.9,0.9,0.9,0.9,0.9,0.9,0.9,0.9,0.9,0.9,0.9,0.9]},
{"t":135,"e":[4,5,6,7,8,9,10,11,12,13,14,15,16,17,18,19,20],"h":[37,38,38,39,40,40,41,42,43,43,44,45,45,46,47,47,48],"c":[0.9,0.9,0.9,0.9,0.9,0.9,0.9,0.9,1.1,1.1,1.1,1.1,1.1,1.1,1.1,1.1,1.1]},
{"t":140,"e":[4,5,6,7,8,9,10,11,12,13,14,15,16,17,18,19,20],"h":[47,48,48,49,50,50,51,51,52,53,53,54,55,55,56,56,57],"c":[1.1,1.1,1.1,1.1,1.1,1.1,1.1,1.1,1.1,1.1,1.1,1.1,1.1,1.1,1.3,1.3,1.3]},
{"t":145,"e":[4,5,6,7,8,9,10,11,12,13,14,15,16,17,18,19,20],"h":[58,58,59,59,60,60,61,61,62,62,62,63,63,64,64,65,65],"c":[1.3,1.3,1.3,1.3,1.3,1.3,1.3,1.3,1.3,1.3,1.3,1.3,1.3,1.3,1.3,1.3,1.3]},
{"t":150,"e":[4,5,6,7,8,9,10,11,12,13,14,15,16,17,18,19,20],"h":[66,66,67,67,68,68,69,69,70,70,70,71,71,72,72,73,73],"c":[1.3,1.3,1.3,1.3,1.3,1.3,1.6,1.6,1.6,1.6,1.6,1.6,1.6,1.6,1.6,1.6,1.6]},
{"t":155,"e":[4,5,6,7,8,9,10,11,12,13,14,15,16,17,18,19,20],"h":[74,74,75,75,75,76,76,76,77,77,77,77,78,78,78,79,79],"c":[1.6,1.6,1.6,1.6,1.6,1.6,1.6,1.6,1.6,1.6,1.6,1.6,1.6,1.6,1.6,1.6,1.6]},
{"t":160,"e":[4,5,6,7,8,9,10,11,12,13,14,15,16,17,18,19,20],"h":[81,81,82,82,82,82,83,83,83,83,84,84,84,84,85,85,85],"c":[1.8,1.8,1.8,1.8,1.8,1.8,1.8,1.8,1.8,1.8,1.8,1.8,1.8,1.8,1.8,1.8,1.8]},
{"t":165,"e":[4,5,6,7,8,9,10,11,12,13,14,15,16,17,18,19,20],"h":[87,87,87,88,88,88,88,88,89,89,89,89,89,89,90,90,90],"c":[1.8,1.8,1.8,1.8,1.8,1.8,1.8,1.8,1.8,1.8,1.8,1.8,1.8,1.8,1.8,1.8,1.8]},
{"t":170,"e":[4,5,6,7,8,9,10,11,12,13,14,15,16,17,18,19,20],"h":[90,90,90,91,91,91,91,91,92,92,92,92,92,92,93,93,93],"c":[1.8,1.8,1.8,1.8,1.8,1.8,1.8,1.8,1.8,1.8,1.8,1.8,1.8,1.8,1.8,1.8,1.8]},
{"t":175,"e":[4,5,6,7,8,9,10,11,12,13,14,15,16,17,18,19,20],"h":[89,89,89,90,90,90,90,90,91,91,91,91,91,91,92,92,92],"c":[1.8,1.8,1.8,1.8,1.8,1.8,1.8,1.8,1.8,1.8,1.8,1.8,1.8,1.8,1.8,1.8,1.8]},
{"t":180,"e":[4,5,6,7,8,9,10,11,12,13,14,15,16,17,18,19,20],"h":[84,84,84,84,85,85,85,85,85,85,85,85,86,86,86,86,86],"c":[1.8,1.8,1.8,1.8,1.8,1.8,1.8,1.8,1.8,1.8,1.8,1.8,1.8,1.8,1.8,1.8,1.8]},
{"t":185,"e":[4,5,6,7,8,9,10,11,12,13,14,15,16,17,18,19,20],"h":[78,78,78,78,78,78,78,78,79,79,79,79,79,79,79,79,79],"c":[1.6,1.6,1.6,1.6,1.6,1.6,1.6,1.6,1.6,1.6,1.6,1.6,1.6,1.6,1.6,1.6,1.6]},
{"t":190,"e":[4,5,6,7,8,9,10,11,12,13,14,15,16,17,18,19,20],"h":[70,70,70,70,70,70,70,70,71,71,71,71,71,71,71,71,71],"c":[1.6,1.6,1.6,1.6,1.6,1.6,1.6,1.6,1.6,1.6,1.6,1.6,1.6,1.6,1.6,1.6,1.6]},
{"t":195,"e":[4,5,6,7,8,9,10,11,12,13,14,15,16,17,18,19,20],"h":[62,62,62,62,63,63,63,63,63,63,63,63,64,64,64,64,64],"c":[1.3,1.3,1.3,1.3,1.3,1.3,1.3,1.3,1.3,1.3,1.3,1.3,1.3,1.3,1.3,1.3,1.3]},
{"t":200,"e":[4,5,6,7,8,9,10,11,12,13,14,15,16,17,18,19,20],"h":[55,55,55,56,56,56,56,56,57,57,57,57,57,57,58,58,58],"c":[1.1,1.1,1.1,1.3,1.3,1.3,1.3,1.3,1.3,1.3,1.3,1.3,1.3,1.3,1.3,1.3,1.3]},
{"t":205,"e":[4,5,6,7,8,9,10,11,12,13,14,15,16,17,18,19,20],"h":[49,49,49,50,50,50,50,50,51,51,51,51,51,51,52,52,52],"c":[1.1,1.1,1.1,1.1,1.1,1.1,1.1,1.1,1.1,1.1,1.1,1.1,1.1,1.1,1.1,1.1,1.1]},
{"t":210,"e":[4,5,6,7,8,9,10,11,12,13,14,15,16,17,18,19,20],"h":[43,43,43,44,44,44,44,44,45,45,45,45,45,45,46,46,46],"c":[1.1,1.1,1.1,1.1,1.1,1.1,1.1,1.1,1.1,1.1,1.1,1.1,1.1,1.1,1.1,1.1,1.1]},
{"t":215,"e":[4,5,6,7,8,9,10,11,12,13,14,15,16,17,18,19,20],"h":[38,38,38,39,39,39,39,39,40,40,40,40,40,40,41,41,41],"c":[0.9,0.9,0.9,0.9,0.9,0.9,0.9,0.9,0.9,0.9,0.9,0.9,0.9,0.9,0.9,0.9,0.9]},
{"t":220,"e":[4,5,6,7,8,9,10,11,12,13,14,15,16,17,18,19,20],"h":[34,34,34,35,35,35,35,35,36,36,36,36,36,36,37,37,37],"c":[0.9,0.9,0.9,0.9,0.9,0.9,0.9,0.9,0.9,0.9,0.9,0.9,0.9,0.9,0.9,0.9,0.9]},
{"t":225,"e":[4,5,6,7,8,9,10,11,12,13,14,15,16,17,18,19,20],"h":[30,30,30,31,31,31,31,31,32,32,32,32,32,32,33,33,33],"c":[0.7,0.7,0.7,0.9,0.9,0.9,0.9,0.9,0.9,0.9,0.9,0.9,0.9,0.9,0.9,0.9,0.9]},
{"t":230,"e":[4,5,6,7,8,9,10,11,12,13,14,15,16,17,18,19,20],"h":[26,26,27,27,27,27,28,28,28,28,29,29,29,29,30,30,30],"c":[0.7,0.7,0.7,0.7,0.7,0.7,0.7,0.7,0.7,0.7,0.7,0.7,0.7,0.7,0.7,0.7,0.7]},
{"t":235,"e":[4,5,6,7,8,9,10,11,12,13,14,15,16,17,18,19,20],"h":[23,23,24,24,24,25,25,25,26,26,26,26,27,27,27,28,28],"c":[0.7,0.7,0.7,0.7,0.7,0.7,0.7,0.7,0.7,0.7,0.7,0.7,0.7,0.7,0.7,0.7,0.7]},
{"t":240,"e":[4,5,6,7,8,9,10,11,12,13,14,15,16,17,18,19,20],"h":[20,20,21,21,22,22,22,23,23,23,24,24,25,25,25,26,26],"c":[0.4,0.4,0.7,0.7,0.7,0.7,0.7,0.7,0.7,0.7,0.7,0.7,0.7,0.7,0.7,0.7,0.7]},
{"t":245,"e":[4,5,6,7,8,9,10,11,12,13,14,15,16,17,18,19,20],"h":[18,18,19,19,20,20,20,21,21,21,22,22,23,23,23,24,24],"c":[0.4,0.4,0.4,0.4,0.4,0.4,0.4,0.7,0.7,0.7,0.7,0.7,0.7,0.7,0.7,0.7,0.7]},
{"t":250,"e":[4,5,6,7,8,9,10,11,12,13,14,15,16,17,18,19,20],"h":[16,16,17,17,18,18,18,19,19,19,20,20,21,21,21,22,22],"c":[0.4,0.4,0.4,0.4,0.4,0.4,0.4,0.4,0.4,0.4,0.4,0.4,0.7,0.7,0.7,0.7,0.7]},
{"t":255,"e":[4,5,6,7,8,9,10,11,12,13,14,15,16,17,18,19,20],"h":[14,14,15,15,16,16,17,17,18,18,18,19,19,20,20,21,21],"c":[0.4,0.4,0.4,0.4,0.4,0.4,0.4,0.4,0.4,0.4,0.4,0.4,0.4,0.4,0.4,0.7,0.7]},
{"t":260,"e":[4,5,6,7,8,9,10,11,12,13,14,15,16,17,18,19,20],"h":[12,13,13,14,14,15,15,16,16,17,17,17,18,18,19,19,20],"c":[0.2,0.4,0.4,0.4,0.4,0.4,0.4,0.4,0.4,0.4,0.4,0.4,0.4,0.4,0.4,0.4,0.4]},
{"t":265,"e":[4,5,6,7,8,9,10,11,12,13,14,15,16,17,18,19,20],"h":[11,12,12,13,13,14,14,15,15,15,16,16,17,17,18,18,19],"c":[0.2,0.2,0.2,0.4,0.4,0.4,0.4,0.4,0.4,0.4,0.4,0.4,0.4,0.4,0.4,0.4,0.4]},
{"t":270,"e":[4,5,6,7,8,9,10,11,12,13,14,15,16,17,18,19,20],"h":[10,11,11,12,12,13,13,14,14,14,15,15,16,16,17,17,18],"c":[0.2,0.2,0.2,0.2,0.2,0.4,0.4,0.4,0.4,0.4,0.4,0.4,0.4,0.4,0.4,0.4,0.4]},
{"t":275,"e":[4,5,6,7,8,9,10,11,12,13,14,15,16,17,18,19,20],"h":[10,10,11,11,12,12,13,13,14,14,14,15,15,16,16,17,17],"c":[0.2,0.2,0.2,0.2,0.2,0.2,0.4,0.4,0.4,0.4,0.4,0.4,0.4,0.4,0.4,0.4,0.4]},
{"t":280,"e":[4,5,6,7,8,9,10,11,12,13,14,15,16,17,18,19,20],"h":[9,10,10,11,11,12,12,13,13,14,14,15,15,16,16,17,17],"c":[0.2,0.2,0.2,0.2,0.2,0.2,0.2,0.4,0.4,0.4,0.4,0.4,0.4,0.4,0.4,0.4,0.4]}
],
"micro": [
{"t":-100,"e":[4,5,6,7,8,9,10,11,12,13,14,15,16,17,18,19,20],"h":[2,2,2,2,2,2,2,2,2,2,2,2,2,2,2,2,2],"c":[0,0,0,0,0,0,0,0,0,0,0,0,0,0,0,0,0]},
{"t":-95,"e":[4,5,6,7,8,9,10,11,12,13,14,15,16,17,18,19,20],"h":[2,2,2,2,2,2,2,2,2,2,2,2,2,2,2,2,2],"c":[0,0,0,0,0,0,0,0,0,0,0,0,0,0,0,0,0]},
{"t":-90,"e":[4,5,6,7,8,9,10,11,12,13,14,15,16,17,18,19,20],"h":[2,2,2,2,2,2,2,2,2,2,2,2,2,2,2,2,2],"c":[0,0,0,0,0,0,0,0,0,0,0,0,0,0,0,0,0]},
{"t":-85,"e":[4,5,6,7,8,9,10,11,12,13,14,15,16,17,18,19,20],"h":[2,2,2,2,2,2,2,2,2,2,2,2,2,2,2,2,2],"c":[0,0,0,0,0,0,0,0,0,0,0,0,0,0,0,0,0]},
{"t":-80,"e":[4,5,6,7,8,9,10,11,12,13,14,15,16,17,18,19,20],"h":[2,2,2,2,2,2,2,2,2,2,2,2,2,2,2,2,2],"c":[0,0,0,0,0,0,0,0,0,0,0,0,0,0,0,0,0]},
{"t":-75,"e":[4,5,6,7,8,9,10,11,12,13,14,15,16,17,18,19,20],"h":[2,2,2,2,2,2,2,2,2,2,2,2,2,2,2,2,2],"c":[0,0,0,0,0,0,0,0,0,0,0,0,0,0,0,0,0]},
{"t":-70,"e":[4,5,6,7,8,9,10,11,12,13,14,15,16,17,18,19,20],"h":[2,2,2,2,2,2,2,2,2,2,2,2,2,2,2,2,2],"c":[0,0,0,0,0,0,0,0,0,0,0,0,0,0,0,0,0]},
{"t":-65,"e":[4,5,6,7,8,9,10,11,12,13,14,15,16,17,18,19,20],"h":[2,2,2,2,2,2,2,2,2,2,2,2,2,2,2,2,2],"c":[0,0,0,0,0,0,0,0,0,0,0,0,0,0,0,0,0]},
{"t":-60,"e":[4,5,6,7,8,9,10,11,12,13,14,15,16,17,18,19,20],"h":[2,2,2,2,2,2,2,2,2,2,2,2,2,2,2,2,2],"c":[0,0,0,0,0,0,0,0,0,0,0,0,0,0,0,0,0]},
{"t":-55,"e":[4,5,6,7,8,9,10,11,12,13,14,15,16,17,18,19,20],"h":[2,2,2,2,2,2,2,2,2,2,2,2,2,2,2,2,2],"c":[0,0,0,0,0,0,0,0,0,0,0,0,0,0,0,0,0]},
{"t":-50,"e":[4,5,6,7,8,9,10,11,12,13,14,15,16,17,18,19,20],"h":[3,3,3,3,3,3,3,3,3,3,3,3,3,3,3,3,3],"c":[0,0,0,0,0,0,0,0,0,0,0,0,0,0,0,0,0]},
{"t":-45,"e":[4,5,6,7,8,9,10,11,12,13,14,15,16,17,18,19,20],"h":[5,5,5,5,5,5,5,5,6,6,6,6,6,6,6,6,6],"c":[0.2,0.2,0.2,0.2,0.2,0.2,0.2,0.2,0.2,0.2,0.2,0.2,0.2,0.2,0.2,0.2,0.2]},
{"t":-40,"e":[4,5,6,7,8,9,10,11,12,13,14,15,16,17,18,19,20],"h":[9,9,9,9,9,9,9,9,9,9,9,9,9,9,9,9,9],"c":[0.2,0.2,0.2,0.2,0.2,0.2,0.2,0.2,0.2,0.2,0.2,0.2,0.2,0.2,0.2,0.2,0.2]},
{"t":-35,"e":[4,5,6,7,8,9,10,11,12,13,14,15,16,17,18,19,20],"h":[18,18,17,17,17,16,16,16,16,15,15,15,14,14,14,13,13],"c":[0.7,0.7,0.4,0.4,0.4,0.4,0.4,0.4,0.4,0.4,0.4,0.4,0.4,0.4,0.4,0.4,0.4]},
{"t":-30,"e":[4,5,6,7,8,9,10,11,12,13,14,15,16,17,18,19,20],"h":[30,30,29,29,28,28,28,27,27,27,26,26,26,25,25,24,24],"c":[0.9,0.9,0.9,0.9,0.9,0.9,0.9,0.7,0.7,0.7,0.7,0.7,0.7,0.7,0.7,0.7,0.7]},
{"t":-25,"e":[4,5,6,7,8,9,10,11,12,13,14,15,16,17,18,19,20],"h":[48,48,47,47,46,46,45,45,44,44,43,43,42,42,41,41,40],"c":[1.1,1.1,1.1,1.1,1.1,1.1,1.1,1.1,1.1,1.1,1.1,1.1,1.1,1.1,1.1,1.1,1.1]},
{"t":-20,"e":[4,5,6,7,8,9,10,11,12,13,14,15,16,17,18,19,20],"h":[64,63,63,62,62,61,61,60,60,59,58,58,57,57,56,56,55],"c":[1.6,1.6,1.6,1.6,1.6,1.6,1.6,1.3,1.3,1.3,1.3,1.3,1.3,1.3,1.3,1.3,1.3]},
{"t":-15,"e":[4,5,6,7,8,9,10,11,12,13,14,15,16,17,18,19,20],"h":[71,71,70,70,69,69,68,68,67,67,66,66,65,65,64,64,63],"c":[1.6,1.6,1.6,1.6,1.6,1.6,1.6,1.6,1.6,1.6,1.6,1.6,1.6,1.6,1.6,1.6,1.6]},
{"t":-10,"e":[4,5,6,7,8,9,10,11,12,13,14,15,16,17,18,19,20],"h":[55,56,54,55,56,55,54,56,55,54,55,56,54,55,55,54,55],"c":[1.3,1.3,1.3,1.3,1.3,1.3,1.3,1.3,1.3,1.3,1.3,1.3,1.3,1.3,1.3,1.3,1.3]},
{"t":-5,"e":[4,5,6,7,8,9,10,11,12,13,14,15,16,17,18,19,20],"h":[38,38,37,38,38,37,38,38,38,37,38,38,37,38,38,38,38],"c":[0.9,0.9,0.9,0.9,0.9,0.9,0.9,0.9,0.9,0.9,0.9,0.9,0.9,0.9,0.9,0.9,0.9]},
{"t":0,"e":[4,5,6,7,8,9,10,11,12,13,14,15,16,17,18,19,20],"h":[20,20,20,20,20,20,20,20,21,21,21,21,21,21,21,21,21],"c":[0.7,0.7,0.7,0.7,0.7,0.7,0.7,0.7,0.7,0.7,0.7,0.7,0.7,0.7,0.7,0.7,0.7]},
{"t":5,"e":[4,5,6,7,8,9,10,11,12,13,14,15,16,17,18,19,20],"h":[7,7,7,7,7,7,7,7,8,8,8,8,8,8,8,8,8],"c":[0.2,0.2,0.2,0.2,0.2,0.2,0.2,0.2,0.2,0.2,0.2,0.2,0.2,0.2,0.2,0.2,0.2]},
{"t":10,"e":[4,5,6,7,8,9,10,11,12,13,14,15,16,17,18,19,20],"h":[3,3,3,3,3,3,3,3,3,3,3,3,3,3,3,3,3],"c":[0,0,0,0,0,0,0,0,0,0,0,0,0,0,0,0,0]},
{"t":15,"e":[4,5,6,7,8,9,10,11,12,13,14,15,16,17,18,19,20],"h":[2,2,2,2,2,2,2,2,2,2,2,2,2,2,2,2,2],"c":[0,0,0,0,0,0,0,0,0,0,0,0,0,0,0,0,0]},
{"t":20,"e":[4,5,6,7,8,9,10,11,12,13,14,15,16,17,18,19,20],"h":[2,2,2,2,2,2,2,2,2,2,2,2,2,2,2,2,2],"c":[0,0,0,0,0,0,0,0,0,0,0,0,0,0,0,0,0]},
{"t":25,"e":[4,5,6,7,8,9,10,11,12,13,14,15,16,17,18,19,20],"h":[2,2,2,2,2,2,2,2,2,2,2,2,2,2,2,2,2],"c":[0,0,0,0,0,0,0,0,0,0,0,0,0,0,0,0,0]},
{"t":30,"e":[4,5,6,7,8,9,10,11,12,13,14,15,16,17,18,19,20],"h":[2,2,2,2,2,2,2,2,2,2,2,2,2,2,2,2,2],"c":[0,0,0,0,0,0,0,0,0,0,0,0,0,0,0,0,0]},
{"t":35,"e":[4,5,6,7,8,9,10,11,12,13,14,15,16,17,18,19,20],"h":[2,2,2,2,2,2,2,2,2,2,2,2,2,2,2,2,2],"c":[0,0,0,0,0,0,0,0,0,0,0,0,0,0,0,0,0]},
{"t":40,"e":[4,5,6,7,8,9,10,11,12,13,14,15,16,17,18,19,20],"h":[2,2,2,2,2,2,2,2,2,2,2,2,2,2,2,2,2],"c":[0,0,0,0,0,0,0,0,0,0,0,0,0,0,0,0,0]},
{"t":45,"e":[4,5,6,7,8,9,10,11,12,13,14,15,16,17,18,19,20],"h":[2,2,2,2,2,2,2,2,2,2,2,2,2,2,2,2,2],"c":[0,0,0,0,0,0,0,0,0,0,0,0,0,0,0,0,0]},
{"t":50,"e":[4,5,6,7,8,9,10,11,12,13,14,15,16,17,18,19,20],"h":[2,2,2,2,2,2,2,2,2,2,2,2,2,2,2,2,2],"c":[0,0,0,0,0,0,0,0,0,0,0,0,0,0,0,0,0]},
{"t":55,"e":[4,5,6,7,8,9,10,11,12,13,14,15,16,17,18,19,20],"h":[2,2,2,2,2,2,2,2,2,2,2,2,2,2,2,2,2],"c":[0,0,0,0,0,0,0,0,0,0,0,0,0,0,0,0,0]},
{"t":60,"e":[4,5,6,7,8,9,10,11,12,13,14,15,16,17,18,19,20],"h":[2,2,2,2,2,2,2,2,2,2,2,2,2,2,2,2,2],"c":[0,0,0,0,0,0,0,0,0,0,0,0,0,0,0,0,0]},
{"t":65,"e":[4,5,6,7,8,9,10,11,12,13,14,15,16,17,18,19,20],"h":[2,2,2,2,2,2,2,2,2,2,2,2,2,2,2,2,2],"c":[0,0,0,0,0,0,0,0,0,0,0,0,0,0,0,0,0]},
{"t":70,"e":[4,5,6,7,8,9,10,11,12,13,14,15,16,17,18,19,20],"h":[2,2,2,2,2,2,2,2,2,2,2,2,2,2,2,2,2],"c":[0,0,0,0,0,0,0,0,0,0,0,0,0,0,0,0,0]},
{"t":75,"e":[4,5,6,7,8,9,10,11,12,13,14,15,16,17,18,19,20],"h":[2,2,2,2,2,2,2,2,2,2,2,2,2,2,2,2,2],"c":[0,0,0,0,0,0,0,0,0,0,0,0,0,0,0,0,0]},
{"t":80,"e":[4,5,6,7,8,9,10,11,12,13,14,15,16,17,18,19,20],"h":[2,2,2,2,2,2,2,2,2,2,2,2,2,2,2,2,2],"c":[0,0,0,0,0,0,0,0,0,0,0,0,0,0,0,0,0]},
{"t":85,"e":[4,5,6,7,8,9,10,11,12,13,14,15,16,17,18,19,20],"h":[2,2,2,2,2,2,2,2,2,2,2,2,2,2,2,2,2],"c":[0,0,0,0,0,0,0,0,0,0,0,0,0,0,0,0,0]},
{"t":90,"e":[4,5,6,7,8,9,10,11,12,13,14,15,16,17,18,19,20],"h":[2,2,2,2,2,2,2,2,2,2,2,2,2,2,2,2,2],"c":[0,0,0,0,0,0,0,0,0,0,0,0,0,0,0,0,0]},
{"t":95,"e":[4,5,6,7,8,9,10,11,12,13,14,15,16,17,18,19,20],"h":[2,2,2,2,2,2,2,2,2,2,2,2,2,2,2,2,2],"c":[0,0,0,0,0,0,0,0,0,0,0,0,0,0,0,0,0]},
{"t":100,"e":[4,5,6,7,8,9,10,11,12,13,14,15,16,17,18,19,20],"h":[2,2,2,2,2,2,2,2,2,2,2,2,2,2,2,2,2],"c":[0,0,0,0,0,0,0,0,0,0,0,0,0,0,0,0,0]},
{"t":105,"e":[4,5,6,7,8,9,10,11,12,13,14,15,16,17,18,19,20],"h":[2,2,2,2,2,2,2,2,2,2,2,2,2,2,2,2,2],"c":[0,0,0,0,0,0,0,0,0,0,0,0,0,0,0,0,0]},
{"t":110,"e":[4,5,6,7,8,9,10,11,12,13,14,15,16,17,18,19,20],"h":[2,2,2,2,2,2,2,2,2,2,2,2,2,2,2,2,2],"c":[0,0,0,0,0,0,0,0,0,0,0,0,0,0,0,0,0]},
{"t":115,"e":[4,5,6,7,8,9,10,11,12,13,14,15,16,17,18,19,20],"h":[2,2,2,2,2,2,2,2,2,2,2,2,2,2,2,2,2],"c":[0,0,0,0,0,0,0,0,0,0,0,0,0,0,0,0,0]},
{"t":120,"e":[4,5,6,7,8,9,10,11,12,13,14,15,16,17,18,19,20],"h":[2,2,2,2,2,2,2,2,2,2,2,2,2,2,2,2,2],"c":[0,0,0,0,0,0,0,0,0,0,0,0,0,0,0,0,0]},
{"t":125,"e":[4,5,6,7,8,9,10,11,12,13,14,15,16,17,18,19,20],"h":[2,2,2,2,2,2,2,2,2,2,2,2,2,2,2,2,2],"c":[0,0,0,0,0,0,0,0,0,0,0,0,0,0,0,0,0]},
{"t":130,"e":[4,5,6,7,8,9,10,11,12,13,14,15,16,17,18,19,20],"h":[2,2,2,2,2,2,2,2,2,2,2,2,2,2,2,2,2],"c":[0,0,0,0,0,0,0,0,0,0,0,0,0,0,0,0,0]},
{"t":135,"e":[4,5,6,7,8,9,10,11,12,13,14,15,16,17,18,19,20],"h":[2,2,2,2,2,2,2,2,2,2,2,2,2,2,2,2,2],"c":[0,0,0,0,0,0,0,0,0,0,0,0,0,0,0,0,0]},
{"t":140,"e":[4,5,6,7,8,9,10,11,12,13,14,15,16,17,18,19,20],"h":[2,2,2,2,2,2,2,2,2,2,2,2,2,2,2,2,2],"c":[0,0,0,0,0,0,0,0,0,0,0,0,0,0,0,0,0]},
{"t":145,"e":[4,5,6,7,8,9,10,11,12,13,14,15,16,17,18,19,20],"h":[2,2,2,2,2,2,2,2,2,2,2,2,2,2,2,2,2],"c":[0,0,0,0,0,0,0,0,0,0,0,0,0,0,0,0,0]},
{"t":150,"e":[4,5,6,7,8,9,10,11,12,13,14,15,16,17,18,19,20],"h":[3,3,3,3,3,3,3,2,2,2,2,2,2,2,2,2,2],"c":[0,0,0,0,0,0,0,0,0,0,0,0,0,0,0,0,0]},
{"t":155,"e":[4,5,6,7,8,9,10,11,12,13,14,15,16,17,18,19,20],"h":[5,5,5,4,4,4,4,4,4,3,3,3,3,3,2,2,2],"c":[0.2,0.2,0.2,0,0,0,0,0,0,0,0,0,0,0,0,0,0]},
{"t":160,"e":[4,5,6,7,8,9,10,11,12,13,14,15,16,17,18,19,20],"h":[8,8,7,7,7,6,6,6,6,5,5,5,4,4,4,3,3],"c":[0.2,0.2,0.2,0.2,0.2,0.2,0.2,0.2,0.2,0.2,0.2,0.2,0,0,0,0,0]},
{"t":165,"e":[4,5,6,7,8,9,10,11,12,13,14,15,16,17,18,19,20],"h":[10,10,9,9,9,8,8,7,7,7,6,6,6,5,5,4,4],"c":[0.4,0.4,0.2,0.2,0.2,0.2,0.2,0.2,0.2,0.2,0.2,0.2,0.2,0.2,0.2,0,0]},
{"t":170,"e":[4,5,6,7,8,9,10,11,12,13,14,15,16,17,18,19,20],"h":[12,12,11,11,10,10,9,9,9,8,8,7,7,6,6,5,5],"c":[0.4,0.4,0.4,0.4,0.4,0.4,0.2,0.2,0.2,0.2,0.2,0.2,0.2,0.2,0.2,0.2,0.2]},
{"t":175,"e":[4,5,6,7,8,9,10,11,12,13,14,15,16,17,18,19,20],"h":[14,14,13,13,12,12,11,11,11,10,10,9,9,8,8,7,7],"c":[0.4,0.4,0.4,0.4,0.4,0.4,0.4,0.4,0.4,0.4,0.4,0.2,0.2,0.2,0.2,0.2,0.2]},
{"t":180,"e":[4,5,6,7,8,9,10,11,12,13,14,15,16,17,18,19,20],"h":[15,15,14,14,14,13,13,12,12,12,11,11,11,10,10,9,9],"c":[0.4,0.4,0.4,0.4,0.4,0.4,0.4,0.4,0.4,0.4,0.4,0.4,0.4,0.4,0.4,0.2,0.2]},
{"t":185,"e":[4,5,6,7,8,9,10,11,12,13,14,15,16,17,18,19,20],"h":[16,16,15,15,15,14,14,13,13,13,12,12,12,11,11,10,10],"c":[0.4,0.4,0.4,0.4,0.4,0.4,0.4,0.4,0.4,0.4,0.4,0.4,0.4,0.4,0.4,0.4,0.4]},
{"t":190,"e":[4,5,6,7,8,9,10,11,12,13,14,15,16,17,18,19,20],"h":[17,17,16,16,16,15,15,15,15,14,14,14,13,13,13,12,12],"c":[0.4,0.4,0.4,0.4,0.4,0.4,0.4,0.4,0.4,0.4,0.4,0.4,0.4,0.4,0.4,0.4,0.4]},
{"t":195,"e":[4,5,6,7,8,9,10,11,12,13,14,15,16,17,18,19,20],"h":[18,18,17,17,17,16,16,16,16,15,15,15,14,14,14,13,13],"c":[0.7,0.7,0.4,0.4,0.4,0.4,0.4,0.4,0.4,0.4,0.4,0.4,0.4,0.4,0.4,0.4,0.4]},
{"t":200,"e":[4,5,6,7,8,9,10,11,12,13,14,15,16,17,18,19,20],"h":[19,19,19,18,18,18,18,17,17,17,17,16,16,16,15,15,15],"c":[0.7,0.7,0.7,0.7,0.7,0.7,0.7,0.4,0.4,0.4,0.4,0.4,0.4,0.4,0.4,0.4,0.4]},
{"t":205,"e":[4,5,6,7,8,9,10,11,12,13,14,15,16,17,18,19,20],"h":[18,18,18,18,18,17,17,17,17,17,17,17,17,16,16,16,16],"c":[0.7,0.7,0.7,0.7,0.7,0.4,0.4,0.4,0.4,0.4,0.4,0.4,0.4,0.4,0.4,0.4,0.4]},
{"t":210,"e":[4,5,6,7,8,9,10,11,12,13,14,15,16,17,18,19,20],"h":[17,17,17,17,17,17,17,17,17,17,17,17,17,17,17,17,17],"c":[0.4,0.4,0.4,0.4,0.4,0.4,0.4,0.4,0.4,0.4,0.4,0.4,0.4,0.4,0.4,0.4,0.4]},
{"t":215,"e":[4,5,6,7,8,9,10,11,12,13,14,15,16,17,18,19,20],"h":[16,16,16,16,17,17,17,17,17,17,17,17,18,18,18,18,18],"c":[0.4,0.4,0.4,0.4,0.4,0.4,0.4,0.4,0.4,0.4,0.4,0.4,0.7,0.7,0.7,0.7,0.7]},
{"t":220,"e":[4,5,6,7,8,9,10,11,12,13,14,15,16,17,18,19,20],"h":[15,15,16,16,16,16,16,17,17,17,17,18,18,18,18,19,19],"c":[0.4,0.4,0.4,0.4,0.4,0.4,0.4,0.4,0.4,0.4,0.4,0.7,0.7,0.7,0.7,0.7,0.7]},
{"t":225,"e":[4,5,6,7,8,9,10,11,12,13,14,15,16,17,18,19,20],"h":[13,13,14,14,15,15,16,16,17,17,17,18,18,19,19,20,20],"c":[0.4,0.4,0.4,0.4,0.4,0.4,0.4,0.4,0.4,0.4,0.4,0.7,0.7,0.7,0.7,0.7,0.7]},
{"t":230,"e":[4,5,6,7,8,9,10,11,12,13,14,15,16,17,18,19,20],"h":[11,12,12,13,13,14,14,15,16,16,17,17,18,18,19,19,20],"c":[0.4,0.4,0.4,0.4,0.4,0.4,0.4,0.4,0.4,0.4,0.4,0.4,0.7,0.7,0.7,0.7,0.7]},
{"t":235,"e":[4,5,6,7,8,9,10,11,12,13,14,15,16,17,18,19,20],"h":[10,11,11,12,12,13,13,14,15,15,16,16,17,17,18,18,19],"c":[0.4,0.4,0.4,0.4,0.4,0.4,0.4,0.4,0.4,0.4,0.4,0.4,0.4,0.4,0.7,0.7,0.7]},
{"t":240,"e":[4,5,6,7,8,9,10,11,12,13,14,15,16,17,18,19,20],"h":[9,10,10,11,11,12,12,13,14,14,15,15,16,16,17,17,18],"c":[0.2,0.4,0.4,0.4,0.4,0.4,0.4,0.4,0.4,0.4,0.4,0.4,0.4,0.4,0.4,0.4,0.7]},
{"t":245,"e":[4,5,6,7,8,9,10,11,12,13,14,15,16,17,18,19,20],"h":[8,9,9,10,10,11,11,12,13,13,14,14,15,15,16,16,17],"c":[0.2,0.2,0.2,0.4,0.4,0.4,0.4,0.4,0.4,0.4,0.4,0.4,0.4,0.4,0.4,0.4,0.4]},
{"t":250,"e":[4,5,6,7,8,9,10,11,12,13,14,15,16,17,18,19,20],"h":[7,8,8,9,9,10,10,11,12,12,13,13,14,14,15,15,16],"c":[0.2,0.2,0.2,0.2,0.2,0.4,0.4,0.4,0.4,0.4,0.4,0.4,0.4,0.4,0.4,0.4,0.4]},
{"t":255,"e":[4,5,6,7,8,9,10,11,12,13,14,15,16,17,18,19,20],"h":[6,7,7,8,8,9,9,10,10,10,11,11,12,12,13,13,14],"c":[0.2,0.2,0.2,0.2,0.2,0.2,0.2,0.4,0.4,0.4,0.4,0.4,0.4,0.4,0.4,0.4,0.4]},
{"t":260,"e":[4,5,6,7,8,9,10,11,12,13,14,15,16,17,18,19,20],"h":[5,6,6,7,7,8,8,9,9,9,10,10,11,11,12,12,13],"c":[0.2,0.2,0.2,0.2,0.2,0.2,0.2,0.2,0.2,0.2,0.4,0.4,0.4,0.4,0.4,0.4,0.4]},
{"t":265,"e":[4,5,6,7,8,9,10,11,12,13,14,15,16,17,18,19,20],"h":[5,5,6,6,7,7,8,8,9,9,9,10,10,11,11,12,12],"c":[0.2,0.2,0.2,0.2,0.2,0.2,0.2,0.2,0.2,0.2,0.2,0.4,0.4,0.4,0.4,0.4,0.4]},
{"t":270,"e":[4,5,6,7,8,9,10,11,12,13,14,15,16,17,18,19,20],"h":[4,4,5,5,6,6,7,7,8,8,8,9,9,10,10,11,11],"c":[0,0,0.2,0.2,0.2,0.2,0.2,0.2,0.2,0.2,0.2,0.2,0.2,0.4,0.4,0.4,0.4]},
{"t":275,"e":[4,5,6,7,8,9,10,11,12,13,14,15,16,17,18,19,20],"h":[3,3,4,4,5,5,6,6,7,7,7,8,8,9,9,10,10],"c":[0,0,0,0,0.2,0.2,0.2,0.2,0.2,0.2,0.2,0.2,0.2,0.2,0.2,0.4,0.4]},
{"t":280,"e":[4,5,6,7,8,9,10,11,12,13,14,15,16,17,18,19,20],"h":[3,3,4,4,5,5,5,6,6,6,7,7,8,8,8,9,9],"c":[0,0,0,0,0.2,0.2,0.2,0.2,0.2,0.2,0.2,0.2,0.2,0.2,0.2,0.2,0.2]}
]
},
"hconcat": [
{
  "data": {"name": "starts"},
  "transform": [{"flatten": ["e", "h", "c"]}],
  "width": 864, "height": 1649,
  "title": {"text": "Saccade Starts", "dx": 18},
  "mark": {"type": "circle", "size": 220, "opacity": 1},
  "encoding": {
    "x": {"field": "t", "type": "quantitative", "scale": {"domain": [-105, 280], "nice": false, "zero": false}, "axis": {"values": [-100, 0, 100, 200], "title": "Time (in ms)", "grid": true}},
    "y": {"field": "e", "type": "ordinal", "scale": {"type": "band", "domain": [1,2,3,4,5,6,7,8,9,10,11,12,13,14,15,16,17,18,19,20], "paddingInner": 0, "paddingOuter": 0.345, "align": 0.29}, "axis": {"title": "Eccentricity", "grid": true, "values": [4,5,6,7,8,9,10,11,12,13,14,15,16,17,18,19,20]}},
    "yOffset": {"field": "h", "type": "quantitative", "scale": {"domain": [0, 100], "range": [39.85, -39.85], "nice": false, "zero": false}},
    "color": {"field": "c", "type": "quantitative", "scale": {"type": "quantize", "domain": [-1, 3], "nice": false, "zero": false, "range": ["#f7fbff","#f1f7fd","#ebf3fb","#e4eff9","#ddeaf7","#d4e6f3","#cce2f1","#c2dcee","#b8d8ec","#abd3e9","#9dcbe5","#8ac0e2","#76b6dd","#63acd9","#4ca3d5","#3997cd","#3687c1","#3573a9"]}, "legend": {"type": "gradient", "title": null, "labelOffset": 33, "gradientThickness": 47, "values": [-1,-0.7777,-0.5555,-0.5,-0.3333,-0.1111,0,0.1112,0.3334,0.5,0.5556,0.7778,1,1.2223,1.4445,1.5,1.6667,1.8889,2,2.1112,2.3334,2.5,2.5556,2.7778,3], "labelExpr": "indexof([-1,-0.5,0,0.5,1,1.5,2,2.5,3], datum.value) >= 0 ? replace(format(datum.value, '~g'), '\u2212', '-') : ''", "encode": {"labels": {"update": {"baseline": {"value": "middle"}}}}}},
    "order": {"field": "e", "type": "quantitative"}
  }
},
{
  "data": {"name": "ends"},
  "transform": [{"flatten": ["e", "h", "c"]}],
  "width": 864, "height": 1649,
  "title": {"text": "Saccade Ends", "dx": 27},
  "mark": {"type": "circle", "size": 220, "opacity": 1},
  "encoding": {
    "x": {"field": "t", "type": "quantitative", "scale": {"domain": [-105, 280], "nice": false, "zero": false}, "axis": {"values": [-100, 0, 100, 200], "title": "Time (in ms)", "grid": true}},
    "y": {"field": "e", "type": "ordinal", "scale": {"type": "band", "domain": [1,2,3,4,5,6,7,8,9,10,11,12,13,14,15,16,17,18,19,20], "paddingInner": 0, "paddingOuter": 0.345, "align": 0.29}, "axis": {"title": "Eccentricity", "grid": true, "values": [4,5,6,7,8,9,10,11,12,13,14,15,16,17,18,19,20]}},
    "yOffset": {"field": "h", "type": "quantitative", "scale": {"domain": [0, 100], "range": [39.85, -39.85], "nice": false, "zero": false}},
    "color": {"field": "c", "type": "quantitative", "scale": {"type": "quantize", "domain": [-1, 3], "nice": false, "zero": false, "range": ["#eff5fc","#d9e8f5","#c3d9ef","#afcbe9","#9abbdf","#7caed3","#609fc7","#4b92c1","#3a84bb","#2a73b1","#1a62a6","#115198","#0a3f8c","#06317f","#03266e","#021d5c","#011442","#000a2b"]}, "legend": {"type": "gradient", "title": null, "labelOffset": 33, "gradientThickness": 47, "values": [-1,-0.7777,-0.5555,-0.5,-0.3333,-0.1111,0,0.1112,0.3334,0.5,0.5556,0.7778,1,1.2223,1.4445,1.5,1.6667,1.8889,2,2.1112,2.3334,2.5,2.5556,2.7778,3], "labelExpr": "indexof([-1,-0.5,0,0.5,1,1.5,2,2.5,3], datum.value) >= 0 ? replace(format(datum.value, '~g'), '\u2212', '-') : ''", "encode": {"labels": {"update": {"baseline": {"value": "middle"}}}}}},
    "order": {"field": "e", "type": "quantitative"}
  }
},
{
  "data": {"name": "micro"},
  "transform": [{"flatten": ["e", "h", "c"]}],
  "width": 864, "height": 1649,
  "title": {"text": "Microsaccades", "dx": 27},
  "mark": {"type": "circle", "size": 220, "opacity": 1},
  "encoding": {
    "x": {"field": "t", "type": "quantitative", "scale": {"domain": [-105, 280], "nice": false, "zero": false}, "axis": {"values": [-100, 0, 100, 200], "title": "Time (in ms)", "grid": true}},
    "y": {"field": "e", "type": "ordinal", "scale": {"type": "band", "domain": [1,2,3,4,5,6,7,8,9,10,11,12,13,14,15,16,17,18,19,20], "paddingInner": 0, "paddingOuter": 0.345, "align": 0.29}, "axis": {"title": "Eccentricity", "grid": true, "values": [4,5,6,7,8,9,10,11,12,13,14,15,16,17,18,19,20]}},
    "yOffset": {"field": "h", "type": "quantitative", "scale": {"domain": [0, 100], "range": [39.85, -39.85], "nice": false, "zero": false}},
    "color": {"field": "c", "type": "quantitative", "scale": {"type": "quantize", "domain": [-1, 3], "nice": false, "zero": false, "range": ["#f6fbf3","#eef8eb","#e5f5e0","#d9efd4","#c8e9c1","#b5e1ae","#a1d99b","#93d192","#84ca84","#71c177","#57b568","#41ab5d","#2e9450","#238845","#0e7a38","#006b2c","#005a24","#00441b"]}, "legend": {"type": "gradient", "title": null, "labelOffset": 33, "gradientThickness": 47, "values": [-1,-0.7777,-0.5555,-0.5,-0.3333,-0.1111,0,0.1112,0.3334,0.5,0.5556,0.7778,1,1.2223,1.4445,1.5,1.6667,1.8889,2,2.1112,2.3334,2.5,2.5556,2.7778,3], "labelExpr": "indexof([-1,-0.5,0,0.5,1,1.5,2,2.5,3], datum.value) >= 0 ? replace(format(datum.value, '~g'), '\u2212', '-') : ''", "encode": {"labels": {"update": {"baseline": {"value": "middle"}}}}}},
    "order": {"field": "e", "type": "quantitative"}
  }
}
]
}
